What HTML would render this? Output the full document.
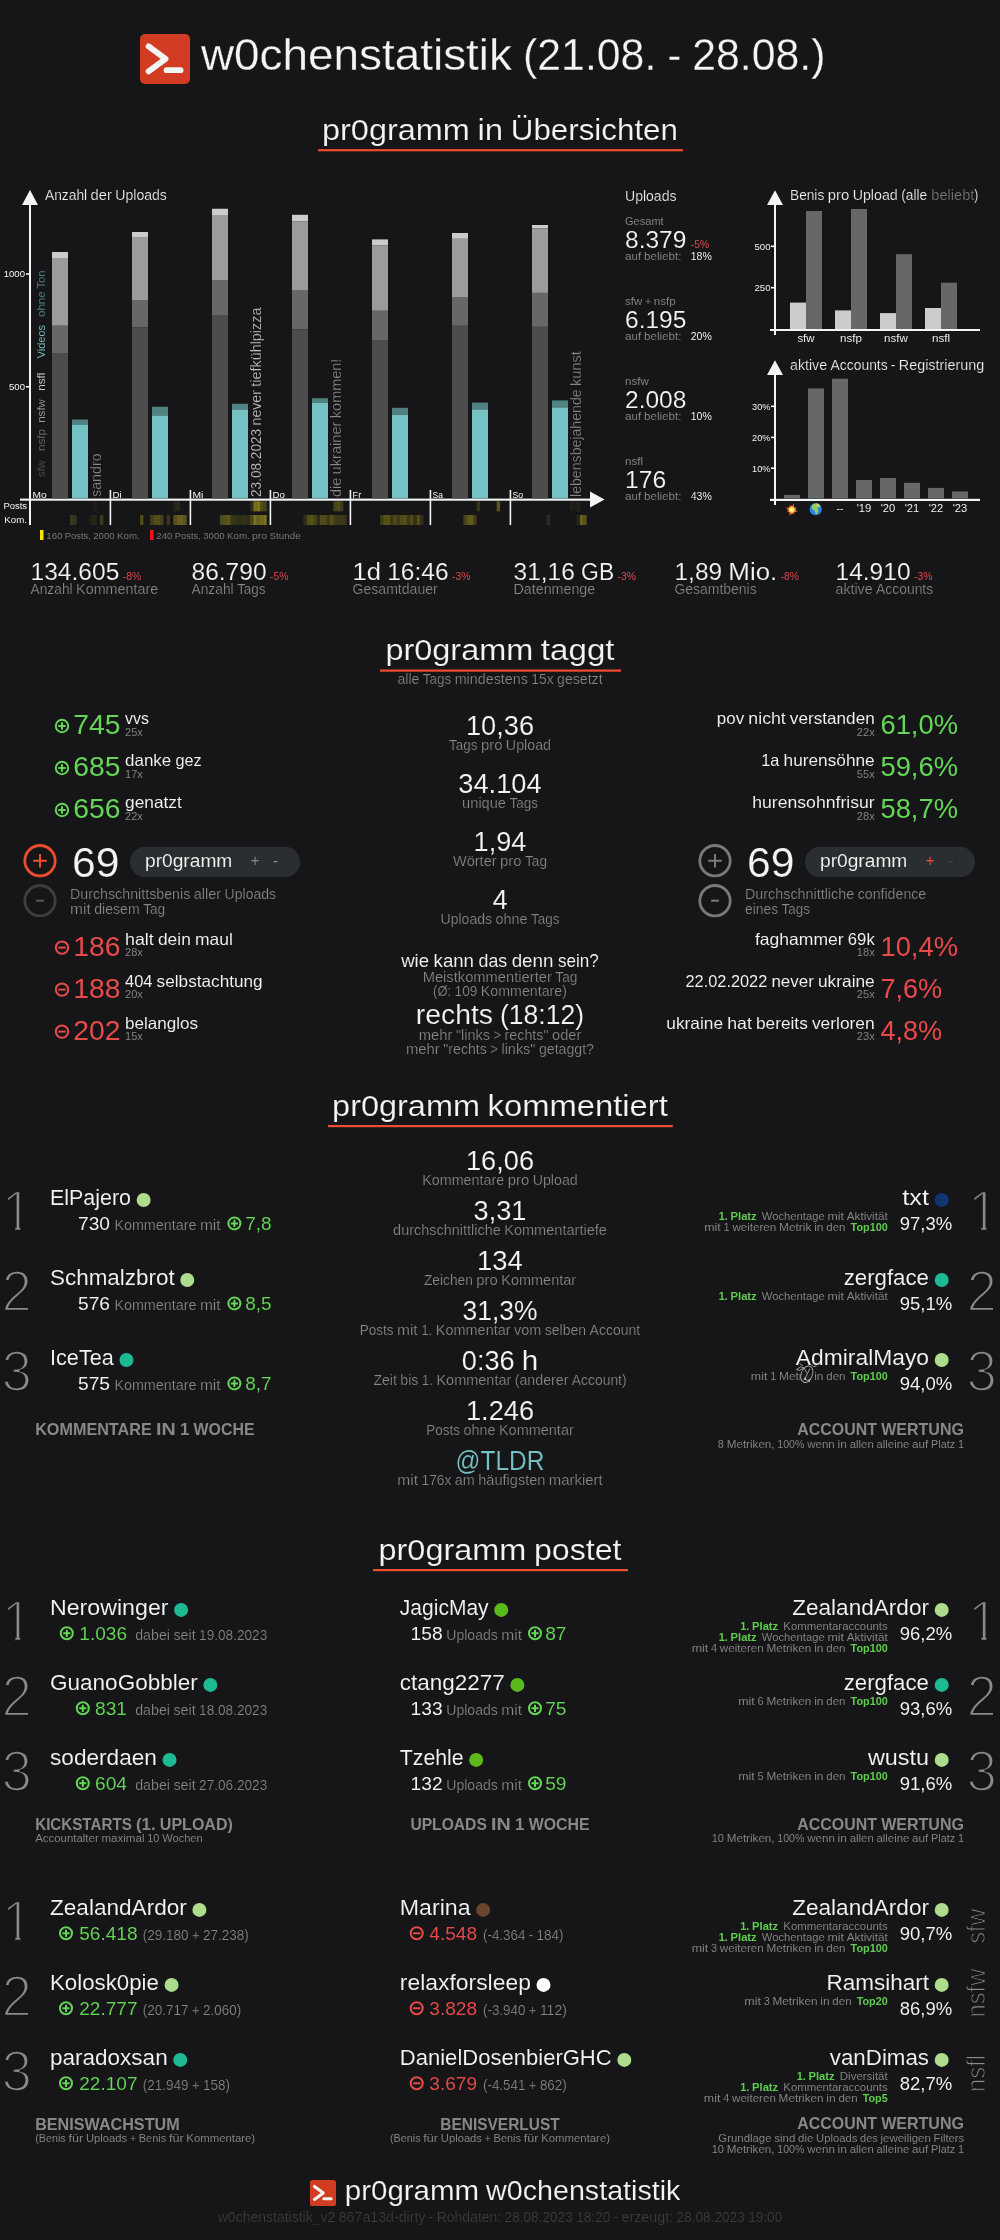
<!DOCTYPE html>
<html lang="de"><head><meta charset="utf-8"><title>pr0gramm w0chenstatistik (21.08. - 28.08.)</title>
<style>html,body{margin:0;padding:0;background:#161618}body{width:1000px;height:2240px;overflow:hidden}svg{display:block;will-change:transform}text{font-family:"Liberation Sans",sans-serif;white-space:pre}</style></head><body>
<svg width="1000" height="2240" viewBox="0 0 1000 2240">
<rect width="1000" height="2240" fill="#161618"/>
<rect x="140" y="34" width="50" height="50" rx="5.0" fill="#d23c22"/>
<path d="M148.60 46.40 L165.60 58.90 L148.60 71.40" fill="none" stroke="#f2f5f4" stroke-width="5.80" stroke-linecap="round" stroke-linejoin="round"/>
<path d="M166.60 70.20 L180.60 70.20" fill="none" stroke="#f2f5f4" stroke-width="5.80" stroke-linecap="round"/>
<rect x="318.00" y="149.10" width="365.00" height="2.20" fill="#ee4d2e"/>
<rect x="380.00" y="669.50" width="241.00" height="2.20" fill="#ee4d2e"/>
<rect x="328.00" y="1125.00" width="344.80" height="2.20" fill="#ee4d2e"/>
<rect x="373.00" y="1569.00" width="255.00" height="2.20" fill="#ee4d2e"/>
<rect x="29.00" y="204.00" width="2.00" height="321.00" fill="#f2f5f4"/>
<polygon points="30,190 22,205 38,205" fill="#f2f5f4"/>
<rect x="20.00" y="498.60" width="571.00" height="2.10" fill="#f2f5f4"/>
<polygon points="604.5,499.5 590,491.5 590,507.5" fill="#f2f5f4"/>
<rect x="26.00" y="385.95" width="4.00" height="1.60" fill="#f2f5f4"/>
<rect x="26.00" y="273.20" width="4.00" height="1.60" fill="#f2f5f4"/>
<rect x="52.00" y="252.00" width="16.00" height="6.00" fill="#cbcdcc"/>
<rect x="52.00" y="258.00" width="16.00" height="67.75" fill="#9a9c99"/>
<rect x="52.00" y="325.75" width="16.00" height="27.25" fill="#666867"/>
<rect x="52.00" y="353.00" width="16.00" height="145.50" fill="#4c4c4c"/>
<rect x="72.00" y="419.50" width="16.00" height="5.00" fill="#4f8281"/>
<rect x="72.00" y="424.50" width="16.00" height="74.00" fill="#74c2c4"/>
<rect x="132.00" y="232.00" width="16.00" height="5.00" fill="#cbcdcc"/>
<rect x="132.00" y="237.00" width="16.00" height="63.00" fill="#9a9c99"/>
<rect x="132.00" y="300.00" width="16.00" height="27.50" fill="#666867"/>
<rect x="132.00" y="327.50" width="16.00" height="171.00" fill="#4c4c4c"/>
<rect x="152.00" y="406.75" width="16.00" height="8.75" fill="#4f8281"/>
<rect x="152.00" y="415.50" width="16.00" height="83.00" fill="#74c2c4"/>
<rect x="109.60" y="490.00" width="1.60" height="35.00" fill="#f2f5f4"/>
<rect x="212.00" y="208.75" width="16.00" height="6.25" fill="#cbcdcc"/>
<rect x="212.00" y="215.00" width="16.00" height="65.00" fill="#9a9c99"/>
<rect x="212.00" y="280.00" width="16.00" height="35.00" fill="#666867"/>
<rect x="212.00" y="315.00" width="16.00" height="183.50" fill="#4c4c4c"/>
<rect x="232.00" y="403.75" width="16.00" height="5.75" fill="#4f8281"/>
<rect x="232.00" y="409.50" width="16.00" height="89.00" fill="#74c2c4"/>
<rect x="189.60" y="490.00" width="1.60" height="35.00" fill="#f2f5f4"/>
<rect x="292.00" y="214.80" width="16.00" height="6.40" fill="#cbcdcc"/>
<rect x="292.00" y="221.20" width="16.00" height="68.80" fill="#9a9c99"/>
<rect x="292.00" y="290.00" width="16.00" height="39.40" fill="#666867"/>
<rect x="292.00" y="329.40" width="16.00" height="169.10" fill="#4c4c4c"/>
<rect x="312.00" y="398.20" width="16.00" height="4.40" fill="#4f8281"/>
<rect x="312.00" y="402.60" width="16.00" height="95.90" fill="#74c2c4"/>
<rect x="269.60" y="490.00" width="1.60" height="35.00" fill="#f2f5f4"/>
<rect x="372.00" y="239.40" width="16.00" height="5.80" fill="#cbcdcc"/>
<rect x="372.00" y="245.20" width="16.00" height="65.60" fill="#9a9c99"/>
<rect x="372.00" y="310.80" width="16.00" height="29.80" fill="#666867"/>
<rect x="372.00" y="340.60" width="16.00" height="157.90" fill="#4c4c4c"/>
<rect x="392.00" y="407.80" width="16.00" height="7.00" fill="#4f8281"/>
<rect x="392.00" y="414.80" width="16.00" height="83.70" fill="#74c2c4"/>
<rect x="349.60" y="490.00" width="1.60" height="35.00" fill="#f2f5f4"/>
<rect x="452.00" y="233.00" width="16.00" height="5.80" fill="#cbcdcc"/>
<rect x="452.00" y="238.80" width="16.00" height="58.20" fill="#9a9c99"/>
<rect x="452.00" y="297.00" width="16.00" height="28.80" fill="#666867"/>
<rect x="452.00" y="325.80" width="16.00" height="172.70" fill="#4c4c4c"/>
<rect x="472.00" y="402.60" width="16.00" height="6.80" fill="#4f8281"/>
<rect x="472.00" y="409.40" width="16.00" height="89.10" fill="#74c2c4"/>
<rect x="429.60" y="490.00" width="1.60" height="35.00" fill="#f2f5f4"/>
<rect x="532.00" y="225.00" width="16.00" height="3.20" fill="#cbcdcc"/>
<rect x="532.00" y="228.20" width="16.00" height="64.70" fill="#9a9c99"/>
<rect x="532.00" y="292.90" width="16.00" height="33.90" fill="#666867"/>
<rect x="532.00" y="326.80" width="16.00" height="171.70" fill="#4c4c4c"/>
<rect x="552.00" y="400.40" width="16.00" height="7.00" fill="#4f8281"/>
<rect x="552.00" y="407.40" width="16.00" height="91.10" fill="#74c2c4"/>
<rect x="509.60" y="490.00" width="1.60" height="35.00" fill="#f2f5f4"/>
<rect x="93.33" y="501.30" width="3.38" height="10.00" fill="#d6c61e" opacity="0.05"/>
<rect x="173.33" y="501.30" width="3.38" height="10.00" fill="#d6c61e" opacity="0.08"/>
<rect x="176.67" y="501.30" width="3.38" height="10.00" fill="#d6c61e" opacity="0.10"/>
<rect x="250.00" y="501.30" width="3.38" height="10.00" fill="#d6c61e" opacity="0.12"/>
<rect x="253.33" y="501.30" width="3.38" height="10.00" fill="#d6c61e" opacity="0.50"/>
<rect x="256.67" y="501.30" width="3.38" height="10.00" fill="#d6c61e" opacity="0.55"/>
<rect x="260.00" y="501.30" width="3.38" height="10.00" fill="#d6c61e" opacity="0.30"/>
<rect x="263.33" y="501.30" width="3.38" height="10.00" fill="#d6c61e" opacity="0.25"/>
<rect x="333.33" y="501.30" width="3.38" height="10.00" fill="#d6c61e" opacity="0.25"/>
<rect x="336.67" y="501.30" width="3.38" height="10.00" fill="#d6c61e" opacity="0.30"/>
<rect x="340.00" y="501.30" width="3.38" height="10.00" fill="#d6c61e" opacity="0.22"/>
<rect x="476.67" y="501.30" width="3.38" height="10.00" fill="#d6c61e" opacity="0.18"/>
<rect x="496.67" y="501.30" width="3.38" height="10.00" fill="#d6c61e" opacity="0.35"/>
<rect x="570.00" y="501.30" width="3.38" height="10.00" fill="#d6c61e" opacity="0.06"/>
<rect x="573.33" y="501.30" width="3.38" height="10.00" fill="#d6c61e" opacity="0.04"/>
<rect x="576.67" y="501.30" width="3.38" height="10.00" fill="#d6c61e" opacity="0.07"/>
<rect x="70.00" y="515.00" width="3.38" height="10.00" fill="#d6c61e" opacity="0.20"/>
<rect x="73.33" y="515.00" width="3.38" height="10.00" fill="#d6c61e" opacity="0.16"/>
<rect x="90.00" y="515.00" width="3.38" height="10.00" fill="#d6c61e" opacity="0.07"/>
<rect x="93.33" y="515.00" width="3.38" height="10.00" fill="#d6c61e" opacity="0.09"/>
<rect x="100.00" y="515.00" width="3.38" height="10.00" fill="#d6c61e" opacity="0.20"/>
<rect x="140.00" y="515.00" width="3.38" height="10.00" fill="#d6c61e" opacity="0.30"/>
<rect x="150.00" y="515.00" width="3.38" height="10.00" fill="#d6c61e" opacity="0.22"/>
<rect x="153.33" y="515.00" width="3.38" height="10.00" fill="#d6c61e" opacity="0.30"/>
<rect x="156.67" y="515.00" width="3.38" height="10.00" fill="#d6c61e" opacity="0.32"/>
<rect x="160.00" y="515.00" width="3.38" height="10.00" fill="#d6c61e" opacity="0.25"/>
<rect x="166.67" y="515.00" width="3.38" height="10.00" fill="#d6c61e" opacity="0.18"/>
<rect x="173.33" y="515.00" width="3.38" height="10.00" fill="#d6c61e" opacity="0.35"/>
<rect x="176.67" y="515.00" width="3.38" height="10.00" fill="#d6c61e" opacity="0.40"/>
<rect x="180.00" y="515.00" width="3.38" height="10.00" fill="#d6c61e" opacity="0.42"/>
<rect x="183.33" y="515.00" width="3.38" height="10.00" fill="#d6c61e" opacity="0.36"/>
<rect x="220.00" y="515.00" width="3.38" height="10.00" fill="#d6c61e" opacity="0.30"/>
<rect x="223.33" y="515.00" width="3.38" height="10.00" fill="#d6c61e" opacity="0.32"/>
<rect x="226.67" y="515.00" width="3.38" height="10.00" fill="#d6c61e" opacity="0.36"/>
<rect x="230.00" y="515.00" width="3.38" height="10.00" fill="#d6c61e" opacity="0.20"/>
<rect x="233.33" y="515.00" width="3.38" height="10.00" fill="#d6c61e" opacity="0.16"/>
<rect x="236.67" y="515.00" width="3.38" height="10.00" fill="#d6c61e" opacity="0.14"/>
<rect x="240.00" y="515.00" width="3.38" height="10.00" fill="#d6c61e" opacity="0.14"/>
<rect x="243.33" y="515.00" width="3.38" height="10.00" fill="#d6c61e" opacity="0.16"/>
<rect x="246.67" y="515.00" width="3.38" height="10.00" fill="#d6c61e" opacity="0.14"/>
<rect x="250.00" y="515.00" width="3.38" height="10.00" fill="#d6c61e" opacity="0.28"/>
<rect x="253.33" y="515.00" width="3.38" height="10.00" fill="#d6c61e" opacity="0.50"/>
<rect x="256.67" y="515.00" width="3.38" height="10.00" fill="#d6c61e" opacity="0.42"/>
<rect x="260.00" y="515.00" width="3.38" height="10.00" fill="#d6c61e" opacity="0.45"/>
<rect x="263.33" y="515.00" width="3.38" height="10.00" fill="#d6c61e" opacity="0.52"/>
<rect x="303.33" y="515.00" width="3.38" height="10.00" fill="#d6c61e" opacity="0.12"/>
<rect x="306.67" y="515.00" width="3.38" height="10.00" fill="#d6c61e" opacity="0.30"/>
<rect x="310.00" y="515.00" width="3.38" height="10.00" fill="#d6c61e" opacity="0.34"/>
<rect x="313.33" y="515.00" width="3.38" height="10.00" fill="#d6c61e" opacity="0.28"/>
<rect x="316.67" y="515.00" width="3.38" height="10.00" fill="#d6c61e" opacity="0.14"/>
<rect x="320.00" y="515.00" width="3.38" height="10.00" fill="#d6c61e" opacity="0.30"/>
<rect x="323.33" y="515.00" width="3.38" height="10.00" fill="#d6c61e" opacity="0.30"/>
<rect x="326.67" y="515.00" width="3.38" height="10.00" fill="#d6c61e" opacity="0.20"/>
<rect x="330.00" y="515.00" width="3.38" height="10.00" fill="#d6c61e" opacity="0.32"/>
<rect x="333.33" y="515.00" width="3.38" height="10.00" fill="#d6c61e" opacity="0.22"/>
<rect x="336.67" y="515.00" width="3.38" height="10.00" fill="#d6c61e" opacity="0.20"/>
<rect x="340.00" y="515.00" width="3.38" height="10.00" fill="#d6c61e" opacity="0.20"/>
<rect x="343.33" y="515.00" width="3.38" height="10.00" fill="#d6c61e" opacity="0.18"/>
<rect x="380.00" y="515.00" width="3.38" height="10.00" fill="#d6c61e" opacity="0.20"/>
<rect x="383.33" y="515.00" width="3.38" height="10.00" fill="#d6c61e" opacity="0.32"/>
<rect x="386.67" y="515.00" width="3.38" height="10.00" fill="#d6c61e" opacity="0.34"/>
<rect x="390.00" y="515.00" width="3.38" height="10.00" fill="#d6c61e" opacity="0.20"/>
<rect x="393.33" y="515.00" width="3.38" height="10.00" fill="#d6c61e" opacity="0.30"/>
<rect x="396.67" y="515.00" width="3.38" height="10.00" fill="#d6c61e" opacity="0.20"/>
<rect x="400.00" y="515.00" width="3.38" height="10.00" fill="#d6c61e" opacity="0.30"/>
<rect x="403.33" y="515.00" width="3.38" height="10.00" fill="#d6c61e" opacity="0.32"/>
<rect x="406.67" y="515.00" width="3.38" height="10.00" fill="#d6c61e" opacity="0.20"/>
<rect x="410.00" y="515.00" width="3.38" height="10.00" fill="#d6c61e" opacity="0.30"/>
<rect x="413.33" y="515.00" width="3.38" height="10.00" fill="#d6c61e" opacity="0.15"/>
<rect x="416.67" y="515.00" width="3.38" height="10.00" fill="#d6c61e" opacity="0.30"/>
<rect x="420.00" y="515.00" width="3.38" height="10.00" fill="#d6c61e" opacity="0.12"/>
<rect x="463.33" y="515.00" width="3.38" height="10.00" fill="#d6c61e" opacity="0.25"/>
<rect x="466.67" y="515.00" width="3.38" height="10.00" fill="#d6c61e" opacity="0.38"/>
<rect x="470.00" y="515.00" width="3.38" height="10.00" fill="#d6c61e" opacity="0.40"/>
<rect x="473.33" y="515.00" width="3.38" height="10.00" fill="#d6c61e" opacity="0.22"/>
<rect x="546.67" y="515.00" width="3.38" height="10.00" fill="#d6c61e" opacity="0.12"/>
<rect x="576.67" y="515.00" width="3.38" height="10.00" fill="#d6c61e" opacity="0.10"/>
<rect x="580.00" y="515.00" width="3.38" height="10.00" fill="#d6c61e" opacity="0.42"/>
<rect x="583.33" y="515.00" width="3.38" height="10.00" fill="#d6c61e" opacity="0.35"/>
<rect x="40.00" y="530.00" width="3.50" height="10.00" fill="#f5e400"/>
<rect x="150.00" y="530.00" width="3.50" height="10.00" fill="#f01414"/>
<rect x="774.00" y="204.00" width="2.00" height="131.00" fill="#f2f5f4"/>
<polygon points="775,190.3 767,205 783,205" fill="#f2f5f4"/>
<rect x="770.00" y="329.00" width="210.00" height="2.00" fill="#f2f5f4"/>
<rect x="771.00" y="245.50" width="4.00" height="1.60" fill="#f2f5f4"/>
<rect x="771.00" y="286.90" width="4.00" height="1.60" fill="#f2f5f4"/>
<rect x="790.00" y="302.60" width="16.00" height="26.40" fill="#cbcdcc"/>
<rect x="806.00" y="211.00" width="16.00" height="118.00" fill="#666867"/>
<rect x="835.00" y="310.40" width="16.00" height="18.60" fill="#cbcdcc"/>
<rect x="851.00" y="209.00" width="16.00" height="120.00" fill="#666867"/>
<rect x="880.00" y="313.10" width="16.00" height="15.90" fill="#cbcdcc"/>
<rect x="896.00" y="254.20" width="16.00" height="74.80" fill="#666867"/>
<rect x="925.00" y="308.00" width="16.00" height="21.00" fill="#cbcdcc"/>
<rect x="941.00" y="282.70" width="16.00" height="46.30" fill="#666867"/>
<rect x="774.00" y="374.00" width="2.00" height="131.00" fill="#f2f5f4"/>
<polygon points="775,360.3 767,375 783,375" fill="#f2f5f4"/>
<rect x="770.00" y="498.80" width="210.00" height="2.20" fill="#f2f5f4"/>
<rect x="771.00" y="405.50" width="4.00" height="1.60" fill="#f2f5f4"/>
<rect x="771.00" y="436.60" width="4.00" height="1.60" fill="#f2f5f4"/>
<rect x="771.00" y="467.40" width="4.00" height="1.60" fill="#f2f5f4"/>
<rect x="784.00" y="494.90" width="16.00" height="3.60" fill="#666867"/>
<rect x="808.00" y="388.40" width="16.00" height="110.10" fill="#666867"/>
<rect x="832.00" y="378.70" width="16.00" height="119.80" fill="#666867"/>
<rect x="856.00" y="480.00" width="16.00" height="18.50" fill="#666867"/>
<rect x="880.00" y="478.00" width="16.00" height="20.50" fill="#666867"/>
<rect x="904.00" y="482.80" width="16.00" height="15.70" fill="#666867"/>
<rect x="928.00" y="487.90" width="16.00" height="10.60" fill="#666867"/>
<rect x="952.00" y="491.40" width="16.00" height="7.10" fill="#666867"/>
<polygon points="794.1,503.6 794.0,507.4 796.7,507.5 795.0,509.7 798.0,512.1 794.2,512.0 794.1,514.7 791.9,513.0 789.5,516.0 789.6,512.2 786.9,512.1 788.6,509.9 785.6,507.5 789.4,507.6 789.5,504.9 791.7,506.6" fill="#e2541c"/>
<polygon points="791.8,504.9 792.8,507.4 794.6,507.0 794.2,508.8 796.7,509.8 794.2,510.8 794.6,512.6 792.8,512.2 791.8,514.7 790.8,512.2 789.0,512.6 789.4,510.8 786.9,509.8 789.4,508.8 789.0,507.0 790.8,507.4" fill="#f7a021"/>
<circle cx="791.8" cy="509.8" r="2.7" fill="#ffdf5a"/>
<circle cx="791.6" cy="510" r="1.3" fill="#fff6c8"/>
<circle cx="815.7" cy="509.2" r="6.1" fill="#2583e6"/>
<path d="M812.2 505 q2.6 -2.2 5.6 -1.4 q2.2 1.2 3 3 q-1.6 1.4 -3.2 0.6 q-0.6 2 0.8 3.6 q-0.4 2.4 -2 3.6 q-1.8 -1 -1.6 -3.6 q-2.4 -0.8 -3 -3 q-0.6 -1.6 0.4 -2.8 z" fill="#8fce5c"/>
<path d="M816.5 504.3 q1.8 -0.2 2.8 1 q-1.2 1 -2.6 0.4 z" fill="#e6d98a"/>
<circle cx="62.00" cy="726.00" r="6.2" fill="none" stroke="#64d556" stroke-width="2"/>
<path d="M58.30 726.00 H65.70 M62.00 722.30 V729.70" stroke="#64d556" stroke-width="2" fill="none"/>
<circle cx="62.00" cy="768.00" r="6.2" fill="none" stroke="#64d556" stroke-width="2"/>
<path d="M58.30 768.00 H65.70 M62.00 764.30 V771.70" stroke="#64d556" stroke-width="2" fill="none"/>
<circle cx="62.00" cy="810.00" r="6.2" fill="none" stroke="#64d556" stroke-width="2"/>
<path d="M58.30 810.00 H65.70 M62.00 806.30 V813.70" stroke="#64d556" stroke-width="2" fill="none"/>
<circle cx="62.00" cy="947.60" r="6.2" fill="none" stroke="#e84a4a" stroke-width="2"/>
<path d="M58.30 947.60 H65.70" stroke="#e84a4a" stroke-width="2" fill="none"/>
<circle cx="62.00" cy="989.60" r="6.2" fill="none" stroke="#e84a4a" stroke-width="2"/>
<path d="M58.30 989.60 H65.70" stroke="#e84a4a" stroke-width="2" fill="none"/>
<circle cx="62.00" cy="1031.60" r="6.2" fill="none" stroke="#e84a4a" stroke-width="2"/>
<path d="M58.30 1031.60 H65.70" stroke="#e84a4a" stroke-width="2" fill="none"/>
<circle cx="40" cy="860.7" r="15.2" fill="none" stroke="#ee4d2e" stroke-width="2.8"/>
<path d="M33.2 860.7 H46.8 M40 853.9000000000001 V867.5" stroke="#ee4d2e" stroke-width="2" fill="none"/>
<circle cx="40" cy="900.7" r="15.2" fill="none" stroke="#3e3e40" stroke-width="2.8"/>
<path d="M36.1 900.7 H43.9" stroke="#5a5a5c" stroke-width="2" fill="none"/>
<rect x="130.00" y="846.70" width="170.00" height="30.40" fill="#2a2e31" rx="15.2"/>
<circle cx="715" cy="860.7" r="15.2" fill="none" stroke="#7a7a7a" stroke-width="2.8"/>
<path d="M708.2 860.7 H721.8 M715 853.9000000000001 V867.5" stroke="#7a7a7a" stroke-width="2" fill="none"/>
<circle cx="715" cy="900.7" r="15.2" fill="none" stroke="#7a7a7a" stroke-width="2.8"/>
<path d="M711.1 900.7 H718.9" stroke="#7a7a7a" stroke-width="2" fill="none"/>
<rect x="805.00" y="846.70" width="170.00" height="30.40" fill="#2a2e31" rx="15.2"/>
<circle cx="234.40" cy="1223.40" r="6" fill="none" stroke="#64d556" stroke-width="2"/>
<path d="M230.80 1223.40 H238.00 M234.40 1219.80 V1227.00" stroke="#64d556" stroke-width="2" fill="none"/>
<circle cx="234.40" cy="1303.40" r="6" fill="none" stroke="#64d556" stroke-width="2"/>
<path d="M230.80 1303.40 H238.00 M234.40 1299.80 V1307.00" stroke="#64d556" stroke-width="2" fill="none"/>
<circle cx="234.40" cy="1383.40" r="6" fill="none" stroke="#64d556" stroke-width="2"/>
<path d="M230.80 1383.40 H238.00 M234.40 1379.80 V1387.00" stroke="#64d556" stroke-width="2" fill="none"/>
<circle cx="941.70" cy="1200.00" r="7" fill="#10366f"/>
<circle cx="941.70" cy="1280.00" r="7" fill="#1cb992"/>
<circle cx="941.70" cy="1360.00" r="7" fill="#addc8d"/>
<circle cx="66.80" cy="1633.30" r="6" fill="none" stroke="#64d556" stroke-width="2"/>
<path d="M63.20 1633.30 H70.40 M66.80 1629.70 V1636.90" stroke="#64d556" stroke-width="2" fill="none"/>
<circle cx="82.80" cy="1708.30" r="6" fill="none" stroke="#64d556" stroke-width="2"/>
<path d="M79.20 1708.30 H86.40 M82.80 1704.70 V1711.90" stroke="#64d556" stroke-width="2" fill="none"/>
<circle cx="82.80" cy="1783.30" r="6" fill="none" stroke="#64d556" stroke-width="2"/>
<path d="M79.20 1783.30 H86.40 M82.80 1779.70 V1786.90" stroke="#64d556" stroke-width="2" fill="none"/>
<circle cx="535.00" cy="1633.30" r="6" fill="none" stroke="#64d556" stroke-width="2"/>
<path d="M531.40 1633.30 H538.60 M535.00 1629.70 V1636.90" stroke="#64d556" stroke-width="2" fill="none"/>
<circle cx="535.00" cy="1708.30" r="6" fill="none" stroke="#64d556" stroke-width="2"/>
<path d="M531.40 1708.30 H538.60 M535.00 1704.70 V1711.90" stroke="#64d556" stroke-width="2" fill="none"/>
<circle cx="535.00" cy="1783.30" r="6" fill="none" stroke="#64d556" stroke-width="2"/>
<path d="M531.40 1783.30 H538.60 M535.00 1779.70 V1786.90" stroke="#64d556" stroke-width="2" fill="none"/>
<circle cx="941.70" cy="1609.90" r="7" fill="#addc8d"/>
<circle cx="941.70" cy="1684.90" r="7" fill="#1cb992"/>
<circle cx="941.70" cy="1759.90" r="7" fill="#addc8d"/>
<circle cx="66.00" cy="1933.30" r="6" fill="none" stroke="#64d556" stroke-width="2"/>
<path d="M62.40 1933.30 H69.60 M66.00 1929.70 V1936.90" stroke="#64d556" stroke-width="2" fill="none"/>
<circle cx="66.00" cy="2008.30" r="6" fill="none" stroke="#64d556" stroke-width="2"/>
<path d="M62.40 2008.30 H69.60 M66.00 2004.70 V2011.90" stroke="#64d556" stroke-width="2" fill="none"/>
<circle cx="66.00" cy="2083.30" r="6" fill="none" stroke="#64d556" stroke-width="2"/>
<path d="M62.40 2083.30 H69.60 M66.00 2079.70 V2086.90" stroke="#64d556" stroke-width="2" fill="none"/>
<circle cx="416.70" cy="1933.30" r="6" fill="none" stroke="#e84a4a" stroke-width="2"/>
<path d="M413.10 1933.30 H420.30" stroke="#e84a4a" stroke-width="2" fill="none"/>
<circle cx="416.70" cy="2008.30" r="6" fill="none" stroke="#e84a4a" stroke-width="2"/>
<path d="M413.10 2008.30 H420.30" stroke="#e84a4a" stroke-width="2" fill="none"/>
<circle cx="416.70" cy="2083.30" r="6" fill="none" stroke="#e84a4a" stroke-width="2"/>
<path d="M413.10 2083.30 H420.30" stroke="#e84a4a" stroke-width="2" fill="none"/>
<circle cx="941.70" cy="1909.90" r="7" fill="#addc8d"/>
<circle cx="941.70" cy="1984.90" r="7" fill="#addc8d"/>
<circle cx="941.70" cy="2059.90" r="7" fill="#addc8d"/>
<rect x="310" y="2180" width="26" height="26" rx="2.6" fill="#d23c22"/>
<path d="M314.47 2186.45 L323.31 2192.95 L314.47 2199.45" fill="none" stroke="#f2f5f4" stroke-width="3.02" stroke-linecap="round" stroke-linejoin="round"/>
<path d="M323.83 2198.82 L331.11 2198.82" fill="none" stroke="#f2f5f4" stroke-width="3.02" stroke-linecap="round"/>
<circle cx="143.66" cy="1200" r="7" fill="#addc8d"/>
<circle cx="187.27" cy="1280" r="7" fill="#addc8d"/>
<circle cx="126.46" cy="1360" r="7" fill="#1cb992"/>
<circle cx="181.1" cy="1609.9" r="7" fill="#1cb992"/>
<circle cx="210.37" cy="1684.9" r="7" fill="#1cb992"/>
<circle cx="169.55" cy="1759.9" r="7" fill="#1cb992"/>
<circle cx="501.24" cy="1609.9" r="7" fill="#5bb91c"/>
<circle cx="517.4" cy="1684.9" r="7" fill="#5bb91c"/>
<circle cx="476.18" cy="1759.9" r="7" fill="#5bb91c"/>
<circle cx="199.41" cy="1909.9" r="7" fill="#addc8d"/>
<circle cx="171.57" cy="1984.9" r="7" fill="#addc8d"/>
<circle cx="180.27" cy="2059.9" r="7" fill="#1cb992"/>
<circle cx="483.18" cy="1909.9" r="7" fill="#6c432b"/>
<circle cx="543.51" cy="1984.9" r="7" fill="#ffffff"/>
<circle cx="624.32" cy="2059.9" r="7" fill="#addc8d"/>
<text y="70.3" font-size="43.95" fill="#f2f5f4" stroke="#161618" stroke-width="0.29"><tspan x="201" textLength="310.97" lengthAdjust="spacingAndGlyphs">w0chenstatistik</tspan> <tspan x="523.06" textLength="133.27" lengthAdjust="spacingAndGlyphs">(21.08.</tspan> <tspan x="667.41" textLength="13.75" lengthAdjust="spacingAndGlyphs">-</tspan> <tspan x="692.23" textLength="133.28" lengthAdjust="spacingAndGlyphs">28.08.)</tspan></text>
<text y="139.6" font-size="30.21" fill="#f2f5f4" stroke="#161618" stroke-width="0.16"><tspan x="322.03" textLength="147.8" lengthAdjust="spacingAndGlyphs">pr0gramm</tspan> <tspan x="477.45" textLength="25.7" lengthAdjust="spacingAndGlyphs">in</tspan> <tspan x="510.77" textLength="167.22" lengthAdjust="spacingAndGlyphs">Übersichten</tspan></text>
<text y="660" font-size="30.21" fill="#f2f5f4" stroke="#161618" stroke-width="0.16"><tspan x="385.44" textLength="147.8" lengthAdjust="spacingAndGlyphs">pr0gramm</tspan> <tspan x="540.86" textLength="73.72" lengthAdjust="spacingAndGlyphs">taggt</tspan></text>
<text y="1115.5" font-size="30.21" fill="#f2f5f4" stroke="#161618" stroke-width="0.16"><tspan x="332.13" textLength="147.8" lengthAdjust="spacingAndGlyphs">pr0gramm</tspan> <tspan x="487.55" textLength="180.33" lengthAdjust="spacingAndGlyphs">kommentiert</tspan></text>
<text y="1559.5" font-size="30.21" fill="#f2f5f4" stroke="#161618" stroke-width="0.16"><tspan x="378.52" textLength="147.8" lengthAdjust="spacingAndGlyphs">pr0gramm</tspan> <tspan x="533.94" textLength="87.56" lengthAdjust="spacingAndGlyphs">postet</tspan></text>
<text y="684.3" font-size="13.73" fill="#888888" stroke="#161618" stroke-width="0.2"><tspan x="397.44" textLength="21.88" lengthAdjust="spacingAndGlyphs">alle</tspan> <tspan x="422.78" textLength="28.42" lengthAdjust="spacingAndGlyphs">Tags</tspan> <tspan x="454.66" textLength="73.19" lengthAdjust="spacingAndGlyphs">mindestens</tspan> <tspan x="531.3" textLength="22.31" lengthAdjust="spacingAndGlyphs">15x</tspan> <tspan x="557.06" textLength="45.52" lengthAdjust="spacingAndGlyphs">gesetzt</tspan></text>
<text y="200" font-size="13.73" fill="#f2f5f4" stroke="#161618" stroke-width="0.2"><tspan x="45" textLength="42.17" lengthAdjust="spacingAndGlyphs">Anzahl</tspan> <tspan x="90.64" textLength="21.23" lengthAdjust="spacingAndGlyphs">der</tspan> <tspan x="115.33" textLength="51.52" lengthAdjust="spacingAndGlyphs">Uploads</tspan></text>
<text y="390.05" font-size="9.61" fill="#f2f5f4"><tspan x="8.98" textLength="16.02" lengthAdjust="spacingAndGlyphs">500</tspan></text>
<text y="277.3" font-size="9.61" fill="#f2f5f4"><tspan x="3.66" textLength="21.34" lengthAdjust="spacingAndGlyphs">1000</tspan></text>
<text y="497.5" font-size="9.61" fill="#f2f5f4"><tspan x="32.5" textLength="14.11" lengthAdjust="spacingAndGlyphs">Mo</tspan></text>
<text y="497.5" font-size="9.61" fill="#f2f5f4"><tspan x="112.5" textLength="9.22" lengthAdjust="spacingAndGlyphs">Di</tspan></text>
<text y="497.5" font-size="9.61" fill="#f2f5f4"><tspan x="192.5" textLength="10.88" lengthAdjust="spacingAndGlyphs">Mi</tspan></text>
<text y="497.5" font-size="9.61" fill="#f2f5f4"><tspan x="272.5" textLength="12.45" lengthAdjust="spacingAndGlyphs">Do</tspan></text>
<text y="497.5" font-size="9.61" fill="#f2f5f4"><tspan x="352.5" textLength="8.7" lengthAdjust="spacingAndGlyphs">Fr</tspan></text>
<text y="497.5" font-size="9.61" fill="#f2f5f4"><tspan x="432.5" textLength="10.36" lengthAdjust="spacingAndGlyphs">Sa</tspan></text>
<text y="497.5" font-size="9.61" fill="#f2f5f4"><tspan x="512.5" textLength="10.77" lengthAdjust="spacingAndGlyphs">So</tspan></text>
<text transform="translate(45.3 477.3) rotate(-90)" y="0" font-size="10.99" fill="#4c4c4c" stroke="#161618" stroke-width="0.04"><tspan x="0" textLength="17.16" lengthAdjust="spacingAndGlyphs">sfw</tspan></text>
<text transform="translate(45.3 451) rotate(-90)" y="0" font-size="10.99" fill="#666867" stroke="#161618" stroke-width="0.04"><tspan x="0" textLength="21.92" lengthAdjust="spacingAndGlyphs">nsfp</tspan></text>
<text transform="translate(45.3 422.8) rotate(-90)" y="0" font-size="10.99" fill="#9a9c99" stroke="#161618" stroke-width="0.04"><tspan x="0" textLength="23.73" lengthAdjust="spacingAndGlyphs">nsfw</tspan></text>
<text transform="translate(45.3 390.8) rotate(-90)" y="0" font-size="10.99" fill="#cbcdcc" stroke="#161618" stroke-width="0.04"><tspan x="0" textLength="18.11" lengthAdjust="spacingAndGlyphs">nsfl</tspan></text>
<text transform="translate(45.3 358.3) rotate(-90)" y="0" font-size="10.99" fill="#74c2c4" stroke="#161618" stroke-width="0.04"><tspan x="0" textLength="33.27" lengthAdjust="spacingAndGlyphs">Videos</tspan></text>
<text transform="translate(45.3 317) rotate(-90)" y="0" font-size="10.99" fill="#4f8281" stroke="#161618" stroke-width="0.04"><tspan x="0" textLength="25.64" lengthAdjust="spacingAndGlyphs">ohne</tspan> <tspan x="28.41" textLength="18.23" lengthAdjust="spacingAndGlyphs">Ton</tspan></text>
<text transform="translate(101.3 497) rotate(-90)" y="0" font-size="13.73" fill="#888888" stroke="#161618" stroke-width="0.2"><tspan x="0" textLength="43.61" lengthAdjust="spacingAndGlyphs">sandro</tspan></text>
<text transform="translate(261.3 497) rotate(-90)" y="0" font-size="13.73" fill="#c4c6c5" stroke="#161618" stroke-width="0.2"><tspan x="0" textLength="68.14" lengthAdjust="spacingAndGlyphs">23.08.2023</tspan> <tspan x="71.61" textLength="35.3" lengthAdjust="spacingAndGlyphs">never</tspan> <tspan x="110.34" textLength="79.05" lengthAdjust="spacingAndGlyphs">tiefkühlpizza</tspan></text>
<text transform="translate(341.3 497) rotate(-90)" y="0" font-size="13.73" fill="#888888" stroke="#161618" stroke-width="0.2"><tspan x="0" textLength="19.16" lengthAdjust="spacingAndGlyphs">die</tspan> <tspan x="22.62" textLength="52.78" lengthAdjust="spacingAndGlyphs">ukrainer</tspan> <tspan x="78.86" textLength="59.45" lengthAdjust="spacingAndGlyphs">kommen!</tspan></text>
<text transform="translate(581.3 497) rotate(-90)" y="0" font-size="13.73" fill="#888888" stroke="#161618" stroke-width="0.2"><tspan x="0" textLength="107.62" lengthAdjust="spacingAndGlyphs">lebensbejahende</tspan> <tspan x="111.09" textLength="34.81" lengthAdjust="spacingAndGlyphs">kunst</tspan></text>
<text y="509" font-size="9.61" fill="#f2f5f4"><tspan x="3.41" textLength="23.59" lengthAdjust="spacingAndGlyphs">Posts</tspan></text>
<text y="523" font-size="9.61" fill="#f2f5f4"><tspan x="4.36" textLength="22.64" lengthAdjust="spacingAndGlyphs">Kom.</tspan></text>
<text y="538.5" font-size="9.61" fill="#777777"><tspan x="46.3" textLength="16.02" lengthAdjust="spacingAndGlyphs">160</tspan> <tspan x="64.74" textLength="26.11" lengthAdjust="spacingAndGlyphs">Posts,</tspan> <tspan x="93.25" textLength="21.36" lengthAdjust="spacingAndGlyphs">2000</tspan> <tspan x="117.02" textLength="22.66" lengthAdjust="spacingAndGlyphs">Kom.</tspan></text>
<text y="538.5" font-size="9.61" fill="#777777"><tspan x="156.3" textLength="16.02" lengthAdjust="spacingAndGlyphs">240</tspan> <tspan x="174.74" textLength="26.11" lengthAdjust="spacingAndGlyphs">Posts,</tspan> <tspan x="203.25" textLength="21.36" lengthAdjust="spacingAndGlyphs">3000</tspan> <tspan x="227.02" textLength="22.66" lengthAdjust="spacingAndGlyphs">Kom.</tspan> <tspan x="252.08" textLength="15.06" lengthAdjust="spacingAndGlyphs">pro</tspan> <tspan x="269.57" textLength="31.03" lengthAdjust="spacingAndGlyphs">Stunde</tspan></text>
<text y="200.6" font-size="13.73" fill="#f2f5f4" stroke="#161618" stroke-width="0.2"><tspan x="625" textLength="51.5" lengthAdjust="spacingAndGlyphs">Uploads</tspan></text>
<text y="224.6" font-size="10.99" fill="#888888" stroke="#161618" stroke-width="0.04"><tspan x="625" textLength="38.67" lengthAdjust="spacingAndGlyphs">Gesamt</tspan></text>
<text y="248" font-size="24.72" fill="#f2f5f4" stroke="#161618" stroke-width="0.15"><tspan x="625" textLength="61.36" lengthAdjust="spacingAndGlyphs">8.379</tspan></text>
<text y="247.6" font-size="10.99" fill="#e84a4a" stroke="#161618" stroke-width="0.04"><tspan x="690.7" textLength="18.39" lengthAdjust="spacingAndGlyphs">-5%</tspan></text>
<text y="259.8" font-size="10.99" fill="#888888" stroke="#161618" stroke-width="0.04"><tspan x="625" textLength="16.23" lengthAdjust="spacingAndGlyphs">auf</tspan> <tspan x="644.02" textLength="37.34" lengthAdjust="spacingAndGlyphs">beliebt:</tspan></text>
<text y="259.8" font-size="10.99" fill="#f2f5f4" stroke="#161618" stroke-width="0.04"><tspan x="690.7" textLength="21.05" lengthAdjust="spacingAndGlyphs">18%</tspan></text>
<text y="304.6" font-size="10.99" fill="#888888" stroke="#161618" stroke-width="0.04"><tspan x="625" textLength="17.16" lengthAdjust="spacingAndGlyphs">sfw</tspan> <tspan x="644.92" textLength="6.11" lengthAdjust="spacingAndGlyphs">+</tspan> <tspan x="653.8" textLength="21.92" lengthAdjust="spacingAndGlyphs">nsfp</tspan></text>
<text y="328" font-size="24.72" fill="#f2f5f4" stroke="#161618" stroke-width="0.15"><tspan x="625" textLength="61.36" lengthAdjust="spacingAndGlyphs">6.195</tspan></text>
<text y="339.8" font-size="10.99" fill="#888888" stroke="#161618" stroke-width="0.04"><tspan x="625" textLength="16.23" lengthAdjust="spacingAndGlyphs">auf</tspan> <tspan x="644.02" textLength="37.34" lengthAdjust="spacingAndGlyphs">beliebt:</tspan></text>
<text y="339.8" font-size="10.99" fill="#f2f5f4" stroke="#161618" stroke-width="0.04"><tspan x="690.7" textLength="21.05" lengthAdjust="spacingAndGlyphs">20%</tspan></text>
<text y="384.6" font-size="10.99" fill="#888888" stroke="#161618" stroke-width="0.04"><tspan x="625" textLength="23.73" lengthAdjust="spacingAndGlyphs">nsfw</tspan></text>
<text y="408" font-size="24.72" fill="#f2f5f4" stroke="#161618" stroke-width="0.15"><tspan x="625" textLength="61.36" lengthAdjust="spacingAndGlyphs">2.008</tspan></text>
<text y="419.8" font-size="10.99" fill="#888888" stroke="#161618" stroke-width="0.04"><tspan x="625" textLength="16.23" lengthAdjust="spacingAndGlyphs">auf</tspan> <tspan x="644.02" textLength="37.34" lengthAdjust="spacingAndGlyphs">beliebt:</tspan></text>
<text y="419.8" font-size="10.99" fill="#f2f5f4" stroke="#161618" stroke-width="0.04"><tspan x="690.7" textLength="21.05" lengthAdjust="spacingAndGlyphs">10%</tspan></text>
<text y="464.6" font-size="10.99" fill="#888888" stroke="#161618" stroke-width="0.04"><tspan x="625" textLength="18.11" lengthAdjust="spacingAndGlyphs">nsfl</tspan></text>
<text y="488" font-size="24.72" fill="#f2f5f4" stroke="#161618" stroke-width="0.15"><tspan x="625" textLength="41.19" lengthAdjust="spacingAndGlyphs">176</tspan></text>
<text y="499.8" font-size="10.99" fill="#888888" stroke="#161618" stroke-width="0.04"><tspan x="625" textLength="16.23" lengthAdjust="spacingAndGlyphs">auf</tspan> <tspan x="644.02" textLength="37.34" lengthAdjust="spacingAndGlyphs">beliebt:</tspan></text>
<text y="499.8" font-size="10.99" fill="#f2f5f4" stroke="#161618" stroke-width="0.04"><tspan x="690.7" textLength="21.05" lengthAdjust="spacingAndGlyphs">43%</tspan></text>
<text y="200.3" font-size="13.73" fill="#f2f5f4" stroke="#161618" stroke-width="0.2"><tspan x="790" textLength="34.25" lengthAdjust="spacingAndGlyphs">Benis</tspan> <tspan x="827.72" textLength="21.52" lengthAdjust="spacingAndGlyphs">pro</tspan> <tspan x="852.67" textLength="45.14" lengthAdjust="spacingAndGlyphs">Upload</tspan> <tspan x="901.25" textLength="25.89" lengthAdjust="spacingAndGlyphs">(alle</tspan></text>
<text y="200.3" font-size="13.73" fill="#777777" stroke="#161618" stroke-width="0.2"><tspan x="931.3" textLength="43.12" lengthAdjust="spacingAndGlyphs">beliebt</tspan></text>
<text y="200.3" font-size="13.73" fill="#f2f5f4" stroke="#161618" stroke-width="0.2"><tspan x="974.2" textLength="4" lengthAdjust="spacingAndGlyphs">)</tspan></text>
<text y="249.6" font-size="9.61" fill="#f2f5f4"><tspan x="754.48" textLength="16.02" lengthAdjust="spacingAndGlyphs">500</tspan></text>
<text y="291" font-size="9.61" fill="#f2f5f4"><tspan x="754.48" textLength="16.02" lengthAdjust="spacingAndGlyphs">250</tspan></text>
<text y="342.4" font-size="10.99" fill="#f2f5f4" stroke="#161618" stroke-width="0.04"><tspan x="797.42" textLength="17.16" lengthAdjust="spacingAndGlyphs">sfw</tspan></text>
<text y="342.4" font-size="10.99" fill="#f2f5f4" stroke="#161618" stroke-width="0.04"><tspan x="840.04" textLength="21.92" lengthAdjust="spacingAndGlyphs">nsfp</tspan></text>
<text y="342.4" font-size="10.99" fill="#f2f5f4" stroke="#161618" stroke-width="0.04"><tspan x="884.13" textLength="23.73" lengthAdjust="spacingAndGlyphs">nsfw</tspan></text>
<text y="342.4" font-size="10.99" fill="#f2f5f4" stroke="#161618" stroke-width="0.04"><tspan x="931.95" textLength="18.11" lengthAdjust="spacingAndGlyphs">nsfl</tspan></text>
<text y="370.2" font-size="13.73" fill="#f2f5f4" stroke="#161618" stroke-width="0.2"><tspan x="790" textLength="37.14" lengthAdjust="spacingAndGlyphs">aktive</tspan> <tspan x="830.61" textLength="57.06" lengthAdjust="spacingAndGlyphs">Accounts</tspan> <tspan x="891.11" textLength="4.31" lengthAdjust="spacingAndGlyphs">-</tspan> <tspan x="898.88" textLength="85.28" lengthAdjust="spacingAndGlyphs">Registrierung</tspan></text>
<text y="409.6" font-size="9.61" fill="#f2f5f4"><tspan x="752.06" textLength="18.44" lengthAdjust="spacingAndGlyphs">30%</tspan></text>
<text y="440.7" font-size="9.61" fill="#f2f5f4"><tspan x="752.06" textLength="18.44" lengthAdjust="spacingAndGlyphs">20%</tspan></text>
<text y="471.5" font-size="9.61" fill="#f2f5f4"><tspan x="752.06" textLength="18.44" lengthAdjust="spacingAndGlyphs">10%</tspan></text>
<text y="512.4" font-size="10.99" fill="#f2f5f4" stroke="#161618" stroke-width="0.04"><tspan x="836.56" textLength="6.88" lengthAdjust="spacingAndGlyphs">--</tspan></text>
<text y="512.4" font-size="10.99" fill="#f2f5f4" stroke="#161618" stroke-width="0.04"><tspan x="856.7" textLength="14.59" lengthAdjust="spacingAndGlyphs">&#x27;19</tspan></text>
<text y="512.4" font-size="10.99" fill="#f2f5f4" stroke="#161618" stroke-width="0.04"><tspan x="880.7" textLength="14.59" lengthAdjust="spacingAndGlyphs">&#x27;20</tspan></text>
<text y="512.4" font-size="10.99" fill="#f2f5f4" stroke="#161618" stroke-width="0.04"><tspan x="904.7" textLength="14.59" lengthAdjust="spacingAndGlyphs">&#x27;21</tspan></text>
<text y="512.4" font-size="10.99" fill="#f2f5f4" stroke="#161618" stroke-width="0.04"><tspan x="928.7" textLength="14.59" lengthAdjust="spacingAndGlyphs">&#x27;22</tspan></text>
<text y="512.4" font-size="10.99" fill="#f2f5f4" stroke="#161618" stroke-width="0.04"><tspan x="952.7" textLength="14.59" lengthAdjust="spacingAndGlyphs">&#x27;23</tspan></text>
<text y="580" font-size="24.72" fill="#f2f5f4" stroke="#161618" stroke-width="0.15"><tspan x="30.5" textLength="88.81" lengthAdjust="spacingAndGlyphs">134.605</tspan></text>
<text y="579.6" font-size="10.99" fill="#e84a4a" stroke="#161618" stroke-width="0.04"><tspan x="122.71" textLength="18.39" lengthAdjust="spacingAndGlyphs">-8%</tspan></text>
<text y="593.5" font-size="13.73" fill="#888888" stroke="#161618" stroke-width="0.2"><tspan x="30.5" textLength="42.17" lengthAdjust="spacingAndGlyphs">Anzahl</tspan> <tspan x="76.14" textLength="82.05" lengthAdjust="spacingAndGlyphs">Kommentare</tspan></text>
<text y="580" font-size="24.72" fill="#f2f5f4" stroke="#161618" stroke-width="0.15"><tspan x="191.5" textLength="75.08" lengthAdjust="spacingAndGlyphs">86.790</tspan></text>
<text y="579.6" font-size="10.99" fill="#e84a4a" stroke="#161618" stroke-width="0.04"><tspan x="269.98" textLength="18.39" lengthAdjust="spacingAndGlyphs">-5%</tspan></text>
<text y="593.5" font-size="13.73" fill="#888888" stroke="#161618" stroke-width="0.2"><tspan x="191.5" textLength="42.17" lengthAdjust="spacingAndGlyphs">Anzahl</tspan> <tspan x="237.14" textLength="28.42" lengthAdjust="spacingAndGlyphs">Tags</tspan></text>
<text y="580" font-size="24.72" fill="#f2f5f4" stroke="#161618" stroke-width="0.15"><tspan x="352.5" textLength="28.5" lengthAdjust="spacingAndGlyphs">1d</tspan> <tspan x="387.23" textLength="61.36" lengthAdjust="spacingAndGlyphs">16:46</tspan></text>
<text y="579.6" font-size="10.99" fill="#e84a4a" stroke="#161618" stroke-width="0.04"><tspan x="451.98" textLength="18.39" lengthAdjust="spacingAndGlyphs">-3%</tspan></text>
<text y="593.5" font-size="13.73" fill="#888888" stroke="#161618" stroke-width="0.2"><tspan x="352.5" textLength="85.3" lengthAdjust="spacingAndGlyphs">Gesamtdauer</tspan></text>
<text y="580" font-size="24.72" fill="#f2f5f4" stroke="#161618" stroke-width="0.15"><tspan x="513.5" textLength="61.36" lengthAdjust="spacingAndGlyphs">31,16</tspan> <tspan x="581.09" textLength="33.08" lengthAdjust="spacingAndGlyphs">GB</tspan></text>
<text y="579.6" font-size="10.99" fill="#e84a4a" stroke="#161618" stroke-width="0.04"><tspan x="617.56" textLength="18.39" lengthAdjust="spacingAndGlyphs">-3%</tspan></text>
<text y="593.5" font-size="13.73" fill="#888888" stroke="#161618" stroke-width="0.2"><tspan x="513.5" textLength="81.7" lengthAdjust="spacingAndGlyphs">Datenmenge</tspan></text>
<text y="580" font-size="24.72" fill="#f2f5f4" stroke="#161618" stroke-width="0.15"><tspan x="674.5" textLength="47.62" lengthAdjust="spacingAndGlyphs">1,89</tspan> <tspan x="728.36" textLength="48.94" lengthAdjust="spacingAndGlyphs">Mio.</tspan></text>
<text y="579.6" font-size="10.99" fill="#e84a4a" stroke="#161618" stroke-width="0.04"><tspan x="780.68" textLength="18.39" lengthAdjust="spacingAndGlyphs">-8%</tspan></text>
<text y="593.5" font-size="13.73" fill="#888888" stroke="#161618" stroke-width="0.2"><tspan x="674.5" textLength="82.14" lengthAdjust="spacingAndGlyphs">Gesamtbenis</tspan></text>
<text y="580" font-size="24.72" fill="#f2f5f4" stroke="#161618" stroke-width="0.15"><tspan x="835.5" textLength="75.08" lengthAdjust="spacingAndGlyphs">14.910</tspan></text>
<text y="579.6" font-size="10.99" fill="#e84a4a" stroke="#161618" stroke-width="0.04"><tspan x="913.98" textLength="18.39" lengthAdjust="spacingAndGlyphs">-3%</tspan></text>
<text y="593.5" font-size="13.73" fill="#888888" stroke="#161618" stroke-width="0.2"><tspan x="835.5" textLength="37.14" lengthAdjust="spacingAndGlyphs">aktive</tspan> <tspan x="876.11" textLength="57.06" lengthAdjust="spacingAndGlyphs">Accounts</tspan></text>
<text y="734.4" font-size="28.32" fill="#64d556"><tspan x="73.2" textLength="47.2" lengthAdjust="spacingAndGlyphs">745</tspan></text>
<text y="723.8" font-size="16.48" fill="#f2f5f4" stroke="#161618" stroke-width="0.07"><tspan x="125" textLength="23.92" lengthAdjust="spacingAndGlyphs">vvs</tspan></text>
<text y="735.9" font-size="10.99" fill="#888888" stroke="#161618" stroke-width="0.04"><tspan x="125" textLength="17.83" lengthAdjust="spacingAndGlyphs">25x</tspan></text>
<text y="776.4" font-size="28.32" fill="#64d556"><tspan x="73.2" textLength="47.2" lengthAdjust="spacingAndGlyphs">685</tspan></text>
<text y="765.8" font-size="16.48" fill="#f2f5f4" stroke="#161618" stroke-width="0.07"><tspan x="125" textLength="46.28" lengthAdjust="spacingAndGlyphs">danke</tspan> <tspan x="175.44" textLength="26.23" lengthAdjust="spacingAndGlyphs">gez</tspan></text>
<text y="777.9" font-size="10.99" fill="#888888" stroke="#161618" stroke-width="0.04"><tspan x="125" textLength="17.83" lengthAdjust="spacingAndGlyphs">17x</tspan></text>
<text y="818.4" font-size="28.32" fill="#64d556"><tspan x="73.2" textLength="47.2" lengthAdjust="spacingAndGlyphs">656</tspan></text>
<text y="807.8" font-size="16.48" fill="#f2f5f4" stroke="#161618" stroke-width="0.07"><tspan x="125" textLength="56.81" lengthAdjust="spacingAndGlyphs">genatzt</tspan></text>
<text y="819.9" font-size="10.99" fill="#888888" stroke="#161618" stroke-width="0.04"><tspan x="125" textLength="17.83" lengthAdjust="spacingAndGlyphs">22x</tspan></text>
<text y="956" font-size="28.32" fill="#e84a4a"><tspan x="73.2" textLength="47.2" lengthAdjust="spacingAndGlyphs">186</tspan></text>
<text y="945.4" font-size="16.48" fill="#f2f5f4" stroke="#161618" stroke-width="0.07"><tspan x="125" textLength="28.78" lengthAdjust="spacingAndGlyphs">halt</tspan> <tspan x="157.94" textLength="32.89" lengthAdjust="spacingAndGlyphs">dein</tspan> <tspan x="194.97" textLength="37.97" lengthAdjust="spacingAndGlyphs">maul</tspan></text>
<text y="956.4" font-size="10.99" fill="#888888" stroke="#161618" stroke-width="0.04"><tspan x="125" textLength="17.83" lengthAdjust="spacingAndGlyphs">28x</tspan></text>
<text y="998" font-size="28.32" fill="#e84a4a"><tspan x="73.2" textLength="47.2" lengthAdjust="spacingAndGlyphs">188</tspan></text>
<text y="987.4" font-size="16.48" fill="#f2f5f4" stroke="#161618" stroke-width="0.07"><tspan x="125" textLength="27.47" lengthAdjust="spacingAndGlyphs">404</tspan> <tspan x="156.62" textLength="106.05" lengthAdjust="spacingAndGlyphs">selbstachtung</tspan></text>
<text y="998.4" font-size="10.99" fill="#888888" stroke="#161618" stroke-width="0.04"><tspan x="125" textLength="17.83" lengthAdjust="spacingAndGlyphs">20x</tspan></text>
<text y="1040" font-size="28.32" fill="#e84a4a"><tspan x="73.2" textLength="47.2" lengthAdjust="spacingAndGlyphs">202</tspan></text>
<text y="1029.4" font-size="16.48" fill="#f2f5f4" stroke="#161618" stroke-width="0.07"><tspan x="125" textLength="73.17" lengthAdjust="spacingAndGlyphs">belanglos</tspan></text>
<text y="1040.4" font-size="10.99" fill="#888888" stroke="#161618" stroke-width="0.04"><tspan x="125" textLength="17.83" lengthAdjust="spacingAndGlyphs">15x</tspan></text>
<text y="734.4" font-size="28.32" fill="#64d556"><tspan x="880.5" textLength="77.42" lengthAdjust="spacingAndGlyphs">61,0%</tspan></text>
<text y="723.8" font-size="16.48" fill="#f2f5f4" stroke="#161618" stroke-width="0.07"><tspan x="716.87" textLength="27.33" lengthAdjust="spacingAndGlyphs">pov</tspan> <tspan x="748.37" textLength="37.38" lengthAdjust="spacingAndGlyphs">nicht</tspan> <tspan x="789.89" textLength="84.83" lengthAdjust="spacingAndGlyphs">verstanden</tspan></text>
<text y="735.9" font-size="10.99" fill="#888888" stroke="#161618" stroke-width="0.04"><tspan x="856.87" textLength="17.83" lengthAdjust="spacingAndGlyphs">22x</tspan></text>
<text y="776.4" font-size="28.32" fill="#64d556"><tspan x="880.5" textLength="77.42" lengthAdjust="spacingAndGlyphs">59,6%</tspan></text>
<text y="765.8" font-size="16.48" fill="#f2f5f4" stroke="#161618" stroke-width="0.07"><tspan x="761.28" textLength="18.14" lengthAdjust="spacingAndGlyphs">1a</tspan> <tspan x="783.58" textLength="91.14" lengthAdjust="spacingAndGlyphs">hurensöhne</tspan></text>
<text y="777.9" font-size="10.99" fill="#888888" stroke="#161618" stroke-width="0.04"><tspan x="856.87" textLength="17.83" lengthAdjust="spacingAndGlyphs">55x</tspan></text>
<text y="818.4" font-size="28.32" fill="#64d556"><tspan x="880.5" textLength="77.42" lengthAdjust="spacingAndGlyphs">58,7%</tspan></text>
<text y="807.8" font-size="16.48" fill="#f2f5f4" stroke="#161618" stroke-width="0.07"><tspan x="752.2" textLength="122.5" lengthAdjust="spacingAndGlyphs">hurensohnfrisur</tspan></text>
<text y="819.9" font-size="10.99" fill="#888888" stroke="#161618" stroke-width="0.04"><tspan x="856.87" textLength="17.83" lengthAdjust="spacingAndGlyphs">28x</tspan></text>
<text y="956" font-size="28.32" fill="#e84a4a"><tspan x="880.5" textLength="77.42" lengthAdjust="spacingAndGlyphs">10,4%</tspan></text>
<text y="945.4" font-size="16.48" fill="#f2f5f4" stroke="#161618" stroke-width="0.07"><tspan x="754.95" textLength="88.75" lengthAdjust="spacingAndGlyphs">faghammer</tspan> <tspan x="847.86" textLength="26.86" lengthAdjust="spacingAndGlyphs">69k</tspan></text>
<text y="956.4" font-size="10.99" fill="#888888" stroke="#161618" stroke-width="0.04"><tspan x="856.87" textLength="17.83" lengthAdjust="spacingAndGlyphs">18x</tspan></text>
<text y="998" font-size="28.32" fill="#e84a4a"><tspan x="880.5" textLength="61.69" lengthAdjust="spacingAndGlyphs">7,6%</tspan></text>
<text y="987.4" font-size="16.48" fill="#f2f5f4" stroke="#161618" stroke-width="0.07"><tspan x="685.5" textLength="81.8" lengthAdjust="spacingAndGlyphs">22.02.2022</tspan> <tspan x="771.45" textLength="42.38" lengthAdjust="spacingAndGlyphs">never</tspan> <tspan x="817.97" textLength="56.75" lengthAdjust="spacingAndGlyphs">ukraine</tspan></text>
<text y="998.4" font-size="10.99" fill="#888888" stroke="#161618" stroke-width="0.04"><tspan x="856.87" textLength="17.83" lengthAdjust="spacingAndGlyphs">25x</tspan></text>
<text y="1040" font-size="28.32" fill="#e84a4a"><tspan x="880.5" textLength="61.69" lengthAdjust="spacingAndGlyphs">4,8%</tspan></text>
<text y="1029.4" font-size="16.48" fill="#f2f5f4" stroke="#161618" stroke-width="0.07"><tspan x="666.33" textLength="56.75" lengthAdjust="spacingAndGlyphs">ukraine</tspan> <tspan x="727.23" textLength="24.66" lengthAdjust="spacingAndGlyphs">hat</tspan> <tspan x="756.03" textLength="51.77" lengthAdjust="spacingAndGlyphs">bereits</tspan> <tspan x="811.93" textLength="62.78" lengthAdjust="spacingAndGlyphs">verloren</tspan></text>
<text y="1040.4" font-size="10.99" fill="#888888" stroke="#161618" stroke-width="0.04"><tspan x="856.87" textLength="17.83" lengthAdjust="spacingAndGlyphs">23x</tspan></text>
<text y="876.5" font-size="42.75" fill="#f2f5f4" stroke="#161618" stroke-width="0.2"><tspan x="72" textLength="47.48" lengthAdjust="spacingAndGlyphs">69</tspan></text>
<text y="867" font-size="17.85" fill="#f2f5f4" stroke="#2a2e31" stroke-width="0.08"><tspan x="145" textLength="87.33" lengthAdjust="spacingAndGlyphs">pr0gramm</tspan></text>
<text y="866.3" font-size="16.48" fill="#888888" stroke="#2a2e31" stroke-width="0.07"><tspan x="250.5" textLength="9.16" lengthAdjust="spacingAndGlyphs">+</tspan></text>
<text y="866.3" font-size="16.48" fill="#888888" stroke="#2a2e31" stroke-width="0.07"><tspan x="273" textLength="5.16" lengthAdjust="spacingAndGlyphs">-</tspan></text>
<text y="876.5" font-size="42.75" fill="#f2f5f4" stroke="#161618" stroke-width="0.2"><tspan x="747" textLength="47.48" lengthAdjust="spacingAndGlyphs">69</tspan></text>
<text y="867" font-size="17.85" fill="#f2f5f4" stroke="#2a2e31" stroke-width="0.08"><tspan x="820" textLength="87.33" lengthAdjust="spacingAndGlyphs">pr0gramm</tspan></text>
<text y="866.3" font-size="16.48" fill="#ee4d2e" stroke="#2a2e31" stroke-width="0.07"><tspan x="925.5" textLength="9.16" lengthAdjust="spacingAndGlyphs">+</tspan></text>
<text y="866.3" font-size="16.48" fill="#44474a" stroke="#2a2e31" stroke-width="0.07"><tspan x="948" textLength="5.16" lengthAdjust="spacingAndGlyphs">-</tspan></text>
<text y="898.5" font-size="13.73" fill="#888888" stroke="#161618" stroke-width="0.2"><tspan x="70" textLength="120.33" lengthAdjust="spacingAndGlyphs">Durchschnittsbenis</tspan> <tspan x="193.78" textLength="27.39" lengthAdjust="spacingAndGlyphs">aller</tspan> <tspan x="224.62" textLength="51.52" lengthAdjust="spacingAndGlyphs">Uploads</tspan></text>
<text y="913.5" font-size="13.73" fill="#888888" stroke="#161618" stroke-width="0.2"><tspan x="70" textLength="20.72" lengthAdjust="spacingAndGlyphs">mit</tspan> <tspan x="94.19" textLength="45.53" lengthAdjust="spacingAndGlyphs">diesem</tspan> <tspan x="143.17" textLength="22.03" lengthAdjust="spacingAndGlyphs">Tag</tspan></text>
<text y="898.5" font-size="13.73" fill="#888888" stroke="#161618" stroke-width="0.2"><tspan x="745" textLength="109.19" lengthAdjust="spacingAndGlyphs">Durchschnittliche</tspan> <tspan x="857.66" textLength="68.61" lengthAdjust="spacingAndGlyphs">confidence</tspan></text>
<text y="913.5" font-size="13.73" fill="#888888" stroke="#161618" stroke-width="0.2"><tspan x="745" textLength="33.09" lengthAdjust="spacingAndGlyphs">eines</tspan> <tspan x="781.56" textLength="28.42" lengthAdjust="spacingAndGlyphs">Tags</tspan></text>
<text y="735.2" font-size="27.47" fill="#f2f5f4" stroke="#161618" stroke-width="0.14"><tspan x="465.93" textLength="68.14" lengthAdjust="spacingAndGlyphs">10,36</tspan></text>
<text y="749.5" font-size="13.73" fill="#888888" stroke="#161618" stroke-width="0.2"><tspan x="449.02" textLength="28.41" lengthAdjust="spacingAndGlyphs">Tags</tspan> <tspan x="480.9" textLength="21.52" lengthAdjust="spacingAndGlyphs">pro</tspan> <tspan x="505.87" textLength="45.12" lengthAdjust="spacingAndGlyphs">Upload</tspan></text>
<text y="793.2" font-size="27.47" fill="#f2f5f4" stroke="#161618" stroke-width="0.14"><tspan x="458.3" textLength="83.39" lengthAdjust="spacingAndGlyphs">34.104</tspan></text>
<text y="807.5" font-size="13.73" fill="#888888" stroke="#161618" stroke-width="0.2"><tspan x="462.13" textLength="43.88" lengthAdjust="spacingAndGlyphs">unique</tspan> <tspan x="509.46" textLength="28.42" lengthAdjust="spacingAndGlyphs">Tags</tspan></text>
<text y="851.2" font-size="27.47" fill="#f2f5f4" stroke="#161618" stroke-width="0.14"><tspan x="473.55" textLength="52.89" lengthAdjust="spacingAndGlyphs">1,94</tspan></text>
<text y="865.5" font-size="13.73" fill="#888888" stroke="#161618" stroke-width="0.2"><tspan x="453.01" textLength="43.53" lengthAdjust="spacingAndGlyphs">Wörter</tspan> <tspan x="500.01" textLength="21.52" lengthAdjust="spacingAndGlyphs">pro</tspan> <tspan x="524.98" textLength="22.03" lengthAdjust="spacingAndGlyphs">Tag</tspan></text>
<text y="909.2" font-size="27.47" fill="#f2f5f4" stroke="#161618" stroke-width="0.14"><tspan x="492.38" textLength="15.25" lengthAdjust="spacingAndGlyphs">4</tspan></text>
<text y="923.5" font-size="13.73" fill="#888888" stroke="#161618" stroke-width="0.2"><tspan x="440.55" textLength="51.5" lengthAdjust="spacingAndGlyphs">Uploads</tspan> <tspan x="495.52" textLength="32.08" lengthAdjust="spacingAndGlyphs">ohne</tspan> <tspan x="531.04" textLength="28.42" lengthAdjust="spacingAndGlyphs">Tags</tspan></text>
<text y="967.3" font-size="17.85" fill="#f2f5f4" stroke="#161618" stroke-width="0.08"><tspan x="401.21" textLength="27.88" lengthAdjust="spacingAndGlyphs">wie</tspan> <tspan x="433.59" textLength="40.41" lengthAdjust="spacingAndGlyphs">kann</tspan> <tspan x="478.49" textLength="28.69" lengthAdjust="spacingAndGlyphs">das</tspan> <tspan x="511.66" textLength="41.86" lengthAdjust="spacingAndGlyphs">denn</tspan> <tspan x="558.02" textLength="40.78" lengthAdjust="spacingAndGlyphs">sein?</tspan></text>
<text y="982.4" font-size="13.73" fill="#888888" stroke="#161618" stroke-width="0.2"><tspan x="422.66" textLength="129.2" lengthAdjust="spacingAndGlyphs">Meistkommentierter</tspan> <tspan x="555.33" textLength="22.03" lengthAdjust="spacingAndGlyphs">Tag</tspan></text>
<text y="996" font-size="13.73" fill="#888888" stroke="#161618" stroke-width="0.2"><tspan x="433.09" textLength="17.98" lengthAdjust="spacingAndGlyphs">(Ø:</tspan> <tspan x="454.54" textLength="22.89" lengthAdjust="spacingAndGlyphs">109</tspan> <tspan x="480.87" textLength="86.06" lengthAdjust="spacingAndGlyphs">Kommentare)</tspan></text>
<text y="1024" font-size="27.47" fill="#f2f5f4" stroke="#161618" stroke-width="0.14"><tspan x="415.88" textLength="77.17" lengthAdjust="spacingAndGlyphs">rechts</tspan> <tspan x="499.99" textLength="84.14" lengthAdjust="spacingAndGlyphs">(18:12)</tspan></text>
<text y="1040.2" font-size="13.73" fill="#888888" stroke="#161618" stroke-width="0.2"><tspan x="418.71" textLength="33.73" lengthAdjust="spacingAndGlyphs">mehr</tspan> <tspan x="455.9" textLength="34.08" lengthAdjust="spacingAndGlyphs">&quot;links</tspan> <tspan x="493.43" textLength="7.62" lengthAdjust="spacingAndGlyphs">&gt;</tspan> <tspan x="504.51" textLength="44.05" lengthAdjust="spacingAndGlyphs">rechts&quot;</tspan> <tspan x="551.99" textLength="29.31" lengthAdjust="spacingAndGlyphs">oder</tspan></text>
<text y="1053.8" font-size="13.73" fill="#888888" stroke="#161618" stroke-width="0.2"><tspan x="406.06" textLength="33.73" lengthAdjust="spacingAndGlyphs">mehr</tspan> <tspan x="443.25" textLength="43.64" lengthAdjust="spacingAndGlyphs">&quot;rechts</tspan> <tspan x="490.34" textLength="7.64" lengthAdjust="spacingAndGlyphs">&gt;</tspan> <tspan x="501.44" textLength="34.06" lengthAdjust="spacingAndGlyphs">links&quot;</tspan> <tspan x="538.95" textLength="55" lengthAdjust="spacingAndGlyphs">getaggt?</tspan></text>
<text y="1170.2" font-size="27.47" fill="#f2f5f4" stroke="#161618" stroke-width="0.14"><tspan x="465.93" textLength="68.14" lengthAdjust="spacingAndGlyphs">16,06</tspan></text>
<text y="1185" font-size="13.73" fill="#888888" stroke="#161618" stroke-width="0.2"><tspan x="422.2" textLength="82.05" lengthAdjust="spacingAndGlyphs">Kommentare</tspan> <tspan x="507.7" textLength="21.52" lengthAdjust="spacingAndGlyphs">pro</tspan> <tspan x="532.67" textLength="45.14" lengthAdjust="spacingAndGlyphs">Upload</tspan></text>
<text y="1220.2" font-size="27.47" fill="#f2f5f4" stroke="#161618" stroke-width="0.14"><tspan x="473.55" textLength="52.89" lengthAdjust="spacingAndGlyphs">3,31</tspan></text>
<text y="1235" font-size="13.73" fill="#888888" stroke="#161618" stroke-width="0.2"><tspan x="393.11" textLength="107.66" lengthAdjust="spacingAndGlyphs">durchschnittliche</tspan> <tspan x="504.23" textLength="102.67" lengthAdjust="spacingAndGlyphs">Kommentartiefe</tspan></text>
<text y="1270.2" font-size="27.47" fill="#f2f5f4" stroke="#161618" stroke-width="0.14"><tspan x="477.12" textLength="45.75" lengthAdjust="spacingAndGlyphs">134</tspan></text>
<text y="1285" font-size="13.73" fill="#888888" stroke="#161618" stroke-width="0.2"><tspan x="423.91" textLength="48.97" lengthAdjust="spacingAndGlyphs">Zeichen</tspan> <tspan x="476.34" textLength="21.52" lengthAdjust="spacingAndGlyphs">pro</tspan> <tspan x="501.31" textLength="74.8" lengthAdjust="spacingAndGlyphs">Kommentar</tspan></text>
<text y="1320.2" font-size="27.47" fill="#f2f5f4" stroke="#161618" stroke-width="0.14"><tspan x="462.48" textLength="75.05" lengthAdjust="spacingAndGlyphs">31,3%</tspan></text>
<text y="1335" font-size="13.73" fill="#888888" stroke="#161618" stroke-width="0.2"><tspan x="359.78" textLength="33.72" lengthAdjust="spacingAndGlyphs">Posts</tspan> <tspan x="396.97" textLength="20.72" lengthAdjust="spacingAndGlyphs">mit</tspan> <tspan x="421.14" textLength="11.2" lengthAdjust="spacingAndGlyphs">1.</tspan> <tspan x="435.8" textLength="74.8" lengthAdjust="spacingAndGlyphs">Kommentar</tspan> <tspan x="514.05" textLength="27.31" lengthAdjust="spacingAndGlyphs">vom</tspan> <tspan x="544.81" textLength="41.3" lengthAdjust="spacingAndGlyphs">selben</tspan> <tspan x="589.56" textLength="50.67" lengthAdjust="spacingAndGlyphs">Account</tspan></text>
<text y="1370.2" font-size="27.47" fill="#f2f5f4" stroke="#161618" stroke-width="0.14"><tspan x="461.85" textLength="52.89" lengthAdjust="spacingAndGlyphs">0:36</tspan> <tspan x="521.68" textLength="16.48" lengthAdjust="spacingAndGlyphs">h</tspan></text>
<text y="1385" font-size="13.73" fill="#888888" stroke="#161618" stroke-width="0.2"><tspan x="373.47" textLength="23.41" lengthAdjust="spacingAndGlyphs">Zeit</tspan> <tspan x="400.33" textLength="18.05" lengthAdjust="spacingAndGlyphs">bis</tspan> <tspan x="421.81" textLength="11.22" lengthAdjust="spacingAndGlyphs">1.</tspan> <tspan x="436.48" textLength="74.8" lengthAdjust="spacingAndGlyphs">Kommentar</tspan> <tspan x="514.73" textLength="53.69" lengthAdjust="spacingAndGlyphs">(anderer</tspan> <tspan x="571.88" textLength="54.67" lengthAdjust="spacingAndGlyphs">Account)</tspan></text>
<text y="1420.2" font-size="27.47" fill="#f2f5f4" stroke="#161618" stroke-width="0.14"><tspan x="465.93" textLength="68.14" lengthAdjust="spacingAndGlyphs">1.246</tspan></text>
<text y="1435" font-size="13.73" fill="#888888" stroke="#161618" stroke-width="0.2"><tspan x="426.26" textLength="33.72" lengthAdjust="spacingAndGlyphs">Posts</tspan> <tspan x="463.45" textLength="32.06" lengthAdjust="spacingAndGlyphs">ohne</tspan> <tspan x="498.96" textLength="74.8" lengthAdjust="spacingAndGlyphs">Kommentar</tspan></text>
<text y="1470.2" font-size="27.47" fill="#74c2c4" stroke="#161618" stroke-width="0.14"><tspan x="455.6" textLength="88.8" lengthAdjust="spacingAndGlyphs">@TLDR</tspan></text>
<text y="1485" font-size="13.73" fill="#888888" stroke="#161618" stroke-width="0.2"><tspan x="397.3" textLength="20.72" lengthAdjust="spacingAndGlyphs">mit</tspan> <tspan x="421.49" textLength="29.94" lengthAdjust="spacingAndGlyphs">176x</tspan> <tspan x="454.88" textLength="19.95" lengthAdjust="spacingAndGlyphs">am</tspan> <tspan x="478.27" textLength="67.14" lengthAdjust="spacingAndGlyphs">häufigsten</tspan> <tspan x="548.87" textLength="53.84" lengthAdjust="spacingAndGlyphs">markiert</tspan></text>
<clipPath id="c161" clipPathUnits="userSpaceOnUse"><path d="M-3.2 1171.4H41.8V1227H20.2V1233.4H15.4V1227H-3.2Z"/></clipPath>
<text y="1231.4" font-size="57.41" fill="#8a8a8a" stroke="#161618" stroke-width="2.35" clip-path="url(#c161)"><tspan x="1.8" textLength="30.41" lengthAdjust="spacingAndGlyphs">1</tspan></text>
<text y="1204.8" font-size="21.97" fill="#f2f5f4" stroke="#161618" stroke-width="0.09"><tspan x="50" textLength="81.06" lengthAdjust="spacingAndGlyphs">ElPajero</tspan></text>
<text y="1230.1" font-size="19.23" fill="#f2f5f4" stroke="#161618" stroke-width="0.05"><tspan x="78" textLength="32.02" lengthAdjust="spacingAndGlyphs">730</tspan></text>
<text y="1230.1" font-size="13.73" fill="#888888" stroke="#161618" stroke-width="0.2"><tspan x="114.4" textLength="82.05" lengthAdjust="spacingAndGlyphs">Kommentare</tspan> <tspan x="199.9" textLength="20.73" lengthAdjust="spacingAndGlyphs">mit</tspan></text>
<text y="1230.1" font-size="19.23" fill="#64d556" stroke="#161618" stroke-width="0.05"><tspan x="245.2" textLength="26.34" lengthAdjust="spacingAndGlyphs">7,8</tspan></text>
<text y="1311.4" font-size="57.41" fill="#8a8a8a" stroke="#161618" stroke-width="2.35"><tspan x="1.4" textLength="30.41" lengthAdjust="spacingAndGlyphs">2</tspan></text>
<text y="1284.8" font-size="21.97" fill="#f2f5f4" stroke="#161618" stroke-width="0.09"><tspan x="50" textLength="124.67" lengthAdjust="spacingAndGlyphs">Schmalzbrot</tspan></text>
<text y="1310.1" font-size="19.23" fill="#f2f5f4" stroke="#161618" stroke-width="0.05"><tspan x="78" textLength="32.02" lengthAdjust="spacingAndGlyphs">576</tspan></text>
<text y="1310.1" font-size="13.73" fill="#888888" stroke="#161618" stroke-width="0.2"><tspan x="114.4" textLength="82.05" lengthAdjust="spacingAndGlyphs">Kommentare</tspan> <tspan x="199.9" textLength="20.73" lengthAdjust="spacingAndGlyphs">mit</tspan></text>
<text y="1310.1" font-size="19.23" fill="#64d556" stroke="#161618" stroke-width="0.05"><tspan x="245.2" textLength="26.34" lengthAdjust="spacingAndGlyphs">8,5</tspan></text>
<text y="1391.4" font-size="57.41" fill="#8a8a8a" stroke="#161618" stroke-width="2.35"><tspan x="1.4" textLength="30.41" lengthAdjust="spacingAndGlyphs">3</tspan></text>
<text y="1364.8" font-size="21.97" fill="#f2f5f4" stroke="#161618" stroke-width="0.09"><tspan x="50" textLength="63.86" lengthAdjust="spacingAndGlyphs">IceTea</tspan></text>
<text y="1390.1" font-size="19.23" fill="#f2f5f4" stroke="#161618" stroke-width="0.05"><tspan x="78" textLength="32.02" lengthAdjust="spacingAndGlyphs">575</tspan></text>
<text y="1390.1" font-size="13.73" fill="#888888" stroke="#161618" stroke-width="0.2"><tspan x="114.4" textLength="82.05" lengthAdjust="spacingAndGlyphs">Kommentare</tspan> <tspan x="199.9" textLength="20.73" lengthAdjust="spacingAndGlyphs">mit</tspan></text>
<text y="1390.1" font-size="19.23" fill="#64d556" stroke="#161618" stroke-width="0.05"><tspan x="245.2" textLength="26.34" lengthAdjust="spacingAndGlyphs">8,7</tspan></text>
<text y="1435" font-size="16.89" font-weight="700" fill="#888888"><tspan x="35.2" textLength="116.53" lengthAdjust="spacingAndGlyphs">KOMMENTARE</tspan> <tspan x="155.98" textLength="19.72" lengthAdjust="spacingAndGlyphs">IN</tspan> <tspan x="179.95" textLength="9.39" lengthAdjust="spacingAndGlyphs">1</tspan> <tspan x="193.59" textLength="60.91" lengthAdjust="spacingAndGlyphs">WOCHE</tspan></text>
<clipPath id="c177" clipPathUnits="userSpaceOnUse"><path d="M962.89 1171.4H1007.89V1227H986.29V1233.4H981.49V1227H962.89Z"/></clipPath>
<text y="1231.4" font-size="57.41" fill="#8a8a8a" stroke="#161618" stroke-width="2.35" clip-path="url(#c177)"><tspan x="967.89" textLength="30.41" lengthAdjust="spacingAndGlyphs">1</tspan></text>
<text y="1204.9" font-size="21.97" fill="#f2f5f4" stroke="#161618" stroke-width="0.09"><tspan x="902.31" textLength="26.69" lengthAdjust="spacingAndGlyphs">txt</tspan></text>
<text y="1229.8" font-size="19.23" fill="#f2f5f4" stroke="#161618" stroke-width="0.05"><tspan x="899.67" textLength="52.53" lengthAdjust="spacingAndGlyphs">97,3%</tspan></text>
<text y="1220.3" font-size="10.99" font-weight="700" fill="#5fce4f"><tspan x="718.7" textLength="9.09" lengthAdjust="spacingAndGlyphs">1.</tspan> <tspan x="730.58" textLength="26.06" lengthAdjust="spacingAndGlyphs">Platz</tspan></text>
<text y="1220.3" font-size="10.99" fill="#888888" stroke="#161618" stroke-width="0.04"><tspan x="761.83" textLength="62.84" lengthAdjust="spacingAndGlyphs">Wochentage</tspan> <tspan x="827.43" textLength="16.58" lengthAdjust="spacingAndGlyphs">mit</tspan> <tspan x="846.76" textLength="40.95" lengthAdjust="spacingAndGlyphs">Aktivität</tspan></text>
<text y="1231.1" font-size="10.99" fill="#888888" stroke="#161618" stroke-width="0.04"><tspan x="704.27" textLength="16.56" lengthAdjust="spacingAndGlyphs">mit</tspan> <tspan x="723.61" textLength="6.11" lengthAdjust="spacingAndGlyphs">1</tspan> <tspan x="732.47" textLength="43.8" lengthAdjust="spacingAndGlyphs">weiteren</tspan> <tspan x="779.02" textLength="32.38" lengthAdjust="spacingAndGlyphs">Metrik</tspan> <tspan x="814.16" textLength="9.34" lengthAdjust="spacingAndGlyphs">in</tspan> <tspan x="826.25" textLength="19.17" lengthAdjust="spacingAndGlyphs">den</tspan></text>
<text y="1231.1" font-size="10.99" font-weight="700" fill="#5fce4f"><tspan x="850.61" textLength="37.09" lengthAdjust="spacingAndGlyphs">Top100</tspan></text>
<text y="1311.4" font-size="57.41" fill="#8a8a8a" stroke="#161618" stroke-width="2.35"><tspan x="966.59" textLength="30.41" lengthAdjust="spacingAndGlyphs">2</tspan></text>
<text y="1284.9" font-size="21.97" fill="#f2f5f4" stroke="#161618" stroke-width="0.09"><tspan x="843.66" textLength="85.34" lengthAdjust="spacingAndGlyphs">zergface</tspan></text>
<text y="1309.8" font-size="19.23" fill="#f2f5f4" stroke="#161618" stroke-width="0.05"><tspan x="899.67" textLength="52.53" lengthAdjust="spacingAndGlyphs">95,1%</tspan></text>
<text y="1300.3" font-size="10.99" font-weight="700" fill="#5fce4f"><tspan x="718.7" textLength="9.09" lengthAdjust="spacingAndGlyphs">1.</tspan> <tspan x="730.58" textLength="26.06" lengthAdjust="spacingAndGlyphs">Platz</tspan></text>
<text y="1300.3" font-size="10.99" fill="#888888" stroke="#161618" stroke-width="0.04"><tspan x="761.83" textLength="62.84" lengthAdjust="spacingAndGlyphs">Wochentage</tspan> <tspan x="827.43" textLength="16.58" lengthAdjust="spacingAndGlyphs">mit</tspan> <tspan x="846.76" textLength="40.95" lengthAdjust="spacingAndGlyphs">Aktivität</tspan></text>
<text y="1391.4" font-size="57.41" fill="#8a8a8a" stroke="#161618" stroke-width="2.35"><tspan x="966.59" textLength="30.41" lengthAdjust="spacingAndGlyphs">3</tspan></text>
<text y="1364.9" font-size="21.97" fill="#f2f5f4" stroke="#161618" stroke-width="0.09"><tspan x="795.86" textLength="133.14" lengthAdjust="spacingAndGlyphs">AdmiralMayo</tspan></text>
<text y="1389.8" font-size="19.23" fill="#f2f5f4" stroke="#161618" stroke-width="0.05"><tspan x="899.67" textLength="52.53" lengthAdjust="spacingAndGlyphs">94,0%</tspan></text>
<text y="1380.3" font-size="10.99" fill="#888888" stroke="#161618" stroke-width="0.04"><tspan x="750.81" textLength="16.56" lengthAdjust="spacingAndGlyphs">mit</tspan> <tspan x="770.16" textLength="6.11" lengthAdjust="spacingAndGlyphs">1</tspan> <tspan x="779.02" textLength="32.38" lengthAdjust="spacingAndGlyphs">Metrik</tspan> <tspan x="814.16" textLength="9.34" lengthAdjust="spacingAndGlyphs">in</tspan> <tspan x="826.25" textLength="19.17" lengthAdjust="spacingAndGlyphs">den</tspan></text>
<text y="1380.3" font-size="10.99" font-weight="700" fill="#5fce4f"><tspan x="850.61" textLength="37.09" lengthAdjust="spacingAndGlyphs">Top100</tspan></text>
<text y="1434.6" font-size="16.89" font-weight="700" fill="#888888"><tspan x="797.36" textLength="79.55" lengthAdjust="spacingAndGlyphs">ACCOUNT</tspan> <tspan x="881.17" textLength="82.84" lengthAdjust="spacingAndGlyphs">WERTUNG</tspan></text>
<text y="1447.8" font-size="10.99" fill="#888888" stroke="#161618" stroke-width="0.04"><tspan x="717.84" textLength="6.11" lengthAdjust="spacingAndGlyphs">8</tspan> <tspan x="726.72" textLength="47.83" lengthAdjust="spacingAndGlyphs">Metriken,</tspan> <tspan x="777.3" textLength="27.16" lengthAdjust="spacingAndGlyphs">100%</tspan> <tspan x="807.22" textLength="27.56" lengthAdjust="spacingAndGlyphs">wenn</tspan> <tspan x="837.55" textLength="9.34" lengthAdjust="spacingAndGlyphs">in</tspan> <tspan x="849.66" textLength="24.08" lengthAdjust="spacingAndGlyphs">allen</tspan> <tspan x="876.5" textLength="32.84" lengthAdjust="spacingAndGlyphs">alleine</tspan> <tspan x="912.09" textLength="16.25" lengthAdjust="spacingAndGlyphs">auf</tspan> <tspan x="931.09" textLength="24.05" lengthAdjust="spacingAndGlyphs">Platz</tspan> <tspan x="957.89" textLength="6.12" lengthAdjust="spacingAndGlyphs">1</tspan></text>
<clipPath id="c196" clipPathUnits="userSpaceOnUse"><path d="M-3.2 1581.3H41.8V1636.9H20.2V1643.3H15.4V1636.9H-3.2Z"/></clipPath>
<text y="1641.3" font-size="57.41" fill="#8a8a8a" stroke="#161618" stroke-width="2.35" clip-path="url(#c196)"><tspan x="1.8" textLength="30.41" lengthAdjust="spacingAndGlyphs">1</tspan></text>
<text y="1614.7" font-size="21.97" fill="#f2f5f4" stroke="#161618" stroke-width="0.09"><tspan x="50" textLength="118.5" lengthAdjust="spacingAndGlyphs">Nerowinger</tspan></text>
<text y="1640" font-size="19.23" fill="#64d556" stroke="#161618" stroke-width="0.05"><tspan x="79.31" textLength="47.69" lengthAdjust="spacingAndGlyphs">1.036</tspan></text>
<text y="1640" font-size="13.73" fill="#888888" stroke="#161618" stroke-width="0.2"><tspan x="135.2" textLength="34.83" lengthAdjust="spacingAndGlyphs">dabei</tspan> <tspan x="173.5" textLength="22.17" lengthAdjust="spacingAndGlyphs">seit</tspan> <tspan x="199.12" textLength="68.14" lengthAdjust="spacingAndGlyphs">19.08.2023</tspan></text>
<text y="1716.3" font-size="57.41" fill="#8a8a8a" stroke="#161618" stroke-width="2.35"><tspan x="1.4" textLength="30.41" lengthAdjust="spacingAndGlyphs">2</tspan></text>
<text y="1689.7" font-size="21.97" fill="#f2f5f4" stroke="#161618" stroke-width="0.09"><tspan x="50" textLength="147.77" lengthAdjust="spacingAndGlyphs">GuanoGobbler</tspan></text>
<text y="1715" font-size="19.23" fill="#64d556" stroke="#161618" stroke-width="0.05"><tspan x="94.98" textLength="32.02" lengthAdjust="spacingAndGlyphs">831</tspan></text>
<text y="1715" font-size="13.73" fill="#888888" stroke="#161618" stroke-width="0.2"><tspan x="135.2" textLength="34.83" lengthAdjust="spacingAndGlyphs">dabei</tspan> <tspan x="173.5" textLength="22.17" lengthAdjust="spacingAndGlyphs">seit</tspan> <tspan x="199.12" textLength="68.14" lengthAdjust="spacingAndGlyphs">18.08.2023</tspan></text>
<text y="1791.3" font-size="57.41" fill="#8a8a8a" stroke="#161618" stroke-width="2.35"><tspan x="1.4" textLength="30.41" lengthAdjust="spacingAndGlyphs">3</tspan></text>
<text y="1764.7" font-size="21.97" fill="#f2f5f4" stroke="#161618" stroke-width="0.09"><tspan x="50" textLength="106.95" lengthAdjust="spacingAndGlyphs">soderdaen</tspan></text>
<text y="1790" font-size="19.23" fill="#64d556" stroke="#161618" stroke-width="0.05"><tspan x="94.98" textLength="32.02" lengthAdjust="spacingAndGlyphs">604</tspan></text>
<text y="1790" font-size="13.73" fill="#888888" stroke="#161618" stroke-width="0.2"><tspan x="135.2" textLength="34.83" lengthAdjust="spacingAndGlyphs">dabei</tspan> <tspan x="173.5" textLength="22.17" lengthAdjust="spacingAndGlyphs">seit</tspan> <tspan x="199.12" textLength="68.14" lengthAdjust="spacingAndGlyphs">27.06.2023</tspan></text>
<text y="1830" font-size="16.89" font-weight="700" fill="#888888"><tspan x="35.2" textLength="96.59" lengthAdjust="spacingAndGlyphs">KICKSTARTS</tspan> <tspan x="136.06" textLength="19.55" lengthAdjust="spacingAndGlyphs">(1.</tspan> <tspan x="159.86" textLength="72.95" lengthAdjust="spacingAndGlyphs">UPLOAD)</tspan></text>
<text y="1842.1" font-size="10.99" fill="#888888" stroke="#161618" stroke-width="0.04"><tspan x="35.2" textLength="63.5" lengthAdjust="spacingAndGlyphs">Accountalter</tspan> <tspan x="101.47" textLength="43.03" lengthAdjust="spacingAndGlyphs">maximal</tspan> <tspan x="147.26" textLength="12.2" lengthAdjust="spacingAndGlyphs">10</tspan> <tspan x="162.22" textLength="40.47" lengthAdjust="spacingAndGlyphs">Wochen</tspan></text>
<text y="1614.7" font-size="21.97" fill="#f2f5f4" stroke="#161618" stroke-width="0.09"><tspan x="399.8" textLength="88.84" lengthAdjust="spacingAndGlyphs">JagicMay</tspan></text>
<text y="1640" font-size="19.23" fill="#f2f5f4" stroke="#161618" stroke-width="0.05"><tspan x="410.6" textLength="32.02" lengthAdjust="spacingAndGlyphs">158</tspan></text>
<text y="1640" font-size="13.73" fill="#888888" stroke="#161618" stroke-width="0.2"><tspan x="446.3" textLength="51.5" lengthAdjust="spacingAndGlyphs">Uploads</tspan> <tspan x="501.27" textLength="20.73" lengthAdjust="spacingAndGlyphs">mit</tspan></text>
<text y="1640" font-size="19.23" fill="#64d556" stroke="#161618" stroke-width="0.05"><tspan x="545.2" textLength="21.34" lengthAdjust="spacingAndGlyphs">87</tspan></text>
<text y="1689.7" font-size="21.97" fill="#f2f5f4" stroke="#161618" stroke-width="0.09"><tspan x="399.8" textLength="105" lengthAdjust="spacingAndGlyphs">ctang2277</tspan></text>
<text y="1715" font-size="19.23" fill="#f2f5f4" stroke="#161618" stroke-width="0.05"><tspan x="410.6" textLength="32.02" lengthAdjust="spacingAndGlyphs">133</tspan></text>
<text y="1715" font-size="13.73" fill="#888888" stroke="#161618" stroke-width="0.2"><tspan x="446.3" textLength="51.5" lengthAdjust="spacingAndGlyphs">Uploads</tspan> <tspan x="501.27" textLength="20.73" lengthAdjust="spacingAndGlyphs">mit</tspan></text>
<text y="1715" font-size="19.23" fill="#64d556" stroke="#161618" stroke-width="0.05"><tspan x="545.2" textLength="21.34" lengthAdjust="spacingAndGlyphs">75</tspan></text>
<text y="1764.7" font-size="21.97" fill="#f2f5f4" stroke="#161618" stroke-width="0.09"><tspan x="399.8" textLength="63.78" lengthAdjust="spacingAndGlyphs">Tzehle</tspan></text>
<text y="1790" font-size="19.23" fill="#f2f5f4" stroke="#161618" stroke-width="0.05"><tspan x="410.6" textLength="32.02" lengthAdjust="spacingAndGlyphs">132</tspan></text>
<text y="1790" font-size="13.73" fill="#888888" stroke="#161618" stroke-width="0.2"><tspan x="446.3" textLength="51.5" lengthAdjust="spacingAndGlyphs">Uploads</tspan> <tspan x="501.27" textLength="20.73" lengthAdjust="spacingAndGlyphs">mit</tspan></text>
<text y="1790" font-size="19.23" fill="#64d556" stroke="#161618" stroke-width="0.05"><tspan x="545.2" textLength="21.34" lengthAdjust="spacingAndGlyphs">59</tspan></text>
<text y="1829.7" font-size="16.89" font-weight="700" fill="#888888"><tspan x="410.41" textLength="76.42" lengthAdjust="spacingAndGlyphs">UPLOADS</tspan> <tspan x="491.1" textLength="19.72" lengthAdjust="spacingAndGlyphs">IN</tspan> <tspan x="515.05" textLength="9.39" lengthAdjust="spacingAndGlyphs">1</tspan> <tspan x="528.7" textLength="60.91" lengthAdjust="spacingAndGlyphs">WOCHE</tspan></text>
<clipPath id="c223" clipPathUnits="userSpaceOnUse"><path d="M962.89 1581.3H1007.89V1636.9H986.29V1643.3H981.49V1636.9H962.89Z"/></clipPath>
<text y="1641.3" font-size="57.41" fill="#8a8a8a" stroke="#161618" stroke-width="2.35" clip-path="url(#c223)"><tspan x="967.89" textLength="30.41" lengthAdjust="spacingAndGlyphs">1</tspan></text>
<text y="1614.8" font-size="21.97" fill="#f2f5f4" stroke="#161618" stroke-width="0.09"><tspan x="792.19" textLength="136.81" lengthAdjust="spacingAndGlyphs">ZealandArdor</tspan></text>
<text y="1639.7" font-size="19.23" fill="#f2f5f4" stroke="#161618" stroke-width="0.05"><tspan x="899.67" textLength="52.53" lengthAdjust="spacingAndGlyphs">96,2%</tspan></text>
<text y="1630.2" font-size="10.99" font-weight="700" fill="#5fce4f"><tspan x="740.22" textLength="9.09" lengthAdjust="spacingAndGlyphs">1.</tspan> <tspan x="752.09" textLength="26.06" lengthAdjust="spacingAndGlyphs">Platz</tspan></text>
<text y="1630.2" font-size="10.99" fill="#888888" stroke="#161618" stroke-width="0.04"><tspan x="783.34" textLength="104.36" lengthAdjust="spacingAndGlyphs">Kommentaraccounts</tspan></text>
<text y="1641" font-size="10.99" font-weight="700" fill="#5fce4f"><tspan x="718.7" textLength="9.09" lengthAdjust="spacingAndGlyphs">1.</tspan> <tspan x="730.58" textLength="26.06" lengthAdjust="spacingAndGlyphs">Platz</tspan></text>
<text y="1641" font-size="10.99" fill="#888888" stroke="#161618" stroke-width="0.04"><tspan x="761.83" textLength="62.84" lengthAdjust="spacingAndGlyphs">Wochentage</tspan> <tspan x="827.43" textLength="16.58" lengthAdjust="spacingAndGlyphs">mit</tspan> <tspan x="846.76" textLength="40.95" lengthAdjust="spacingAndGlyphs">Aktivität</tspan></text>
<text y="1651.8" font-size="10.99" fill="#888888" stroke="#161618" stroke-width="0.04"><tspan x="691.67" textLength="16.56" lengthAdjust="spacingAndGlyphs">mit</tspan> <tspan x="711.02" textLength="6.11" lengthAdjust="spacingAndGlyphs">4</tspan> <tspan x="719.88" textLength="43.8" lengthAdjust="spacingAndGlyphs">weiteren</tspan> <tspan x="766.42" textLength="44.97" lengthAdjust="spacingAndGlyphs">Metriken</tspan> <tspan x="814.16" textLength="9.34" lengthAdjust="spacingAndGlyphs">in</tspan> <tspan x="826.27" textLength="19.16" lengthAdjust="spacingAndGlyphs">den</tspan></text>
<text y="1651.8" font-size="10.99" font-weight="700" fill="#5fce4f"><tspan x="850.61" textLength="37.09" lengthAdjust="spacingAndGlyphs">Top100</tspan></text>
<text y="1716.3" font-size="57.41" fill="#8a8a8a" stroke="#161618" stroke-width="2.35"><tspan x="966.59" textLength="30.41" lengthAdjust="spacingAndGlyphs">2</tspan></text>
<text y="1689.8" font-size="21.97" fill="#f2f5f4" stroke="#161618" stroke-width="0.09"><tspan x="843.66" textLength="85.34" lengthAdjust="spacingAndGlyphs">zergface</tspan></text>
<text y="1714.7" font-size="19.23" fill="#f2f5f4" stroke="#161618" stroke-width="0.05"><tspan x="899.67" textLength="52.53" lengthAdjust="spacingAndGlyphs">93,6%</tspan></text>
<text y="1705.2" font-size="10.99" fill="#888888" stroke="#161618" stroke-width="0.04"><tspan x="738.22" textLength="16.56" lengthAdjust="spacingAndGlyphs">mit</tspan> <tspan x="757.56" textLength="6.11" lengthAdjust="spacingAndGlyphs">6</tspan> <tspan x="766.42" textLength="44.97" lengthAdjust="spacingAndGlyphs">Metriken</tspan> <tspan x="814.16" textLength="9.34" lengthAdjust="spacingAndGlyphs">in</tspan> <tspan x="826.27" textLength="19.16" lengthAdjust="spacingAndGlyphs">den</tspan></text>
<text y="1705.2" font-size="10.99" font-weight="700" fill="#5fce4f"><tspan x="850.61" textLength="37.09" lengthAdjust="spacingAndGlyphs">Top100</tspan></text>
<text y="1791.3" font-size="57.41" fill="#8a8a8a" stroke="#161618" stroke-width="2.35"><tspan x="966.59" textLength="30.41" lengthAdjust="spacingAndGlyphs">3</tspan></text>
<text y="1764.8" font-size="21.97" fill="#f2f5f4" stroke="#161618" stroke-width="0.09"><tspan x="867.95" textLength="61.05" lengthAdjust="spacingAndGlyphs">wustu</tspan></text>
<text y="1789.7" font-size="19.23" fill="#f2f5f4" stroke="#161618" stroke-width="0.05"><tspan x="899.67" textLength="52.53" lengthAdjust="spacingAndGlyphs">91,6%</tspan></text>
<text y="1780.2" font-size="10.99" fill="#888888" stroke="#161618" stroke-width="0.04"><tspan x="738.22" textLength="16.56" lengthAdjust="spacingAndGlyphs">mit</tspan> <tspan x="757.56" textLength="6.11" lengthAdjust="spacingAndGlyphs">5</tspan> <tspan x="766.42" textLength="44.97" lengthAdjust="spacingAndGlyphs">Metriken</tspan> <tspan x="814.16" textLength="9.34" lengthAdjust="spacingAndGlyphs">in</tspan> <tspan x="826.27" textLength="19.16" lengthAdjust="spacingAndGlyphs">den</tspan></text>
<text y="1780.2" font-size="10.99" font-weight="700" fill="#5fce4f"><tspan x="850.61" textLength="37.09" lengthAdjust="spacingAndGlyphs">Top100</tspan></text>
<text y="1829.5" font-size="16.89" font-weight="700" fill="#888888"><tspan x="797.36" textLength="79.55" lengthAdjust="spacingAndGlyphs">ACCOUNT</tspan> <tspan x="881.17" textLength="82.84" lengthAdjust="spacingAndGlyphs">WERTUNG</tspan></text>
<text y="1842" font-size="10.99" fill="#888888" stroke="#161618" stroke-width="0.04"><tspan x="711.75" textLength="12.2" lengthAdjust="spacingAndGlyphs">10</tspan> <tspan x="726.72" textLength="47.83" lengthAdjust="spacingAndGlyphs">Metriken,</tspan> <tspan x="777.31" textLength="27.16" lengthAdjust="spacingAndGlyphs">100%</tspan> <tspan x="807.22" textLength="27.58" lengthAdjust="spacingAndGlyphs">wenn</tspan> <tspan x="837.55" textLength="9.34" lengthAdjust="spacingAndGlyphs">in</tspan> <tspan x="849.66" textLength="24.08" lengthAdjust="spacingAndGlyphs">allen</tspan> <tspan x="876.5" textLength="32.84" lengthAdjust="spacingAndGlyphs">alleine</tspan> <tspan x="912.09" textLength="16.25" lengthAdjust="spacingAndGlyphs">auf</tspan> <tspan x="931.09" textLength="24.05" lengthAdjust="spacingAndGlyphs">Platz</tspan> <tspan x="957.91" textLength="6.11" lengthAdjust="spacingAndGlyphs">1</tspan></text>
<clipPath id="c244" clipPathUnits="userSpaceOnUse"><path d="M-3.2 1881.3H41.8V1936.9H20.2V1943.3H15.4V1936.9H-3.2Z"/></clipPath>
<text y="1941.3" font-size="57.41" fill="#8a8a8a" stroke="#161618" stroke-width="2.35" clip-path="url(#c244)"><tspan x="1.8" textLength="30.41" lengthAdjust="spacingAndGlyphs">1</tspan></text>
<text y="1914.7" font-size="21.97" fill="#f2f5f4" stroke="#161618" stroke-width="0.09"><tspan x="50" textLength="136.81" lengthAdjust="spacingAndGlyphs">ZealandArdor</tspan></text>
<text y="1940" font-size="19.23" fill="#64d556" stroke="#161618" stroke-width="0.05"><tspan x="79.2" textLength="58.36" lengthAdjust="spacingAndGlyphs">56.418</tspan></text>
<text y="1940" font-size="13.73" fill="#888888" stroke="#161618" stroke-width="0.2"><tspan x="142.8" textLength="45.7" lengthAdjust="spacingAndGlyphs">(29.180</tspan> <tspan x="191.96" textLength="7.64" lengthAdjust="spacingAndGlyphs">+</tspan> <tspan x="203.05" textLength="45.7" lengthAdjust="spacingAndGlyphs">27.238)</tspan></text>
<text y="2016.3" font-size="57.41" fill="#8a8a8a" stroke="#161618" stroke-width="2.35"><tspan x="1.4" textLength="30.41" lengthAdjust="spacingAndGlyphs">2</tspan></text>
<text y="1989.7" font-size="21.97" fill="#f2f5f4" stroke="#161618" stroke-width="0.09"><tspan x="50" textLength="108.97" lengthAdjust="spacingAndGlyphs">Kolosk0pie</tspan></text>
<text y="2015" font-size="19.23" fill="#64d556" stroke="#161618" stroke-width="0.05"><tspan x="79.2" textLength="58.36" lengthAdjust="spacingAndGlyphs">22.777</tspan></text>
<text y="2015" font-size="13.73" fill="#888888" stroke="#161618" stroke-width="0.2"><tspan x="142.8" textLength="45.7" lengthAdjust="spacingAndGlyphs">(20.717</tspan> <tspan x="191.96" textLength="7.64" lengthAdjust="spacingAndGlyphs">+</tspan> <tspan x="203.05" textLength="38.08" lengthAdjust="spacingAndGlyphs">2.060)</tspan></text>
<text y="2091.3" font-size="57.41" fill="#8a8a8a" stroke="#161618" stroke-width="2.35"><tspan x="1.4" textLength="30.41" lengthAdjust="spacingAndGlyphs">3</tspan></text>
<text y="2064.7" font-size="21.97" fill="#f2f5f4" stroke="#161618" stroke-width="0.09"><tspan x="50" textLength="117.67" lengthAdjust="spacingAndGlyphs">paradoxsan</tspan></text>
<text y="2090" font-size="19.23" fill="#64d556" stroke="#161618" stroke-width="0.05"><tspan x="79.2" textLength="58.36" lengthAdjust="spacingAndGlyphs">22.107</tspan></text>
<text y="2090" font-size="13.73" fill="#888888" stroke="#161618" stroke-width="0.2"><tspan x="142.8" textLength="45.7" lengthAdjust="spacingAndGlyphs">(21.949</tspan> <tspan x="191.96" textLength="7.64" lengthAdjust="spacingAndGlyphs">+</tspan> <tspan x="203.05" textLength="26.89" lengthAdjust="spacingAndGlyphs">158)</tspan></text>
<text y="2130" font-size="16.89" font-weight="700" fill="#888888"><tspan x="35.2" textLength="144.42" lengthAdjust="spacingAndGlyphs">BENISWACHSTUM</tspan></text>
<text y="2142.1" font-size="10.99" fill="#888888" stroke="#161618" stroke-width="0.04"><tspan x="35.2" textLength="30.58" lengthAdjust="spacingAndGlyphs">(Benis</tspan> <tspan x="68.56" textLength="14.66" lengthAdjust="spacingAndGlyphs">für</tspan> <tspan x="85.98" textLength="41.19" lengthAdjust="spacingAndGlyphs">Uploads</tspan> <tspan x="129.92" textLength="6.11" lengthAdjust="spacingAndGlyphs">+</tspan> <tspan x="138.79" textLength="27.39" lengthAdjust="spacingAndGlyphs">Benis</tspan> <tspan x="168.93" textLength="14.67" lengthAdjust="spacingAndGlyphs">für</tspan> <tspan x="186.36" textLength="68.8" lengthAdjust="spacingAndGlyphs">Kommentare)</tspan></text>
<text y="1914.7" font-size="21.97" fill="#f2f5f4" stroke="#161618" stroke-width="0.09"><tspan x="399.8" textLength="70.78" lengthAdjust="spacingAndGlyphs">Marina</tspan></text>
<text y="1940" font-size="19.23" fill="#e84a4a" stroke="#161618" stroke-width="0.05"><tspan x="429.3" textLength="47.69" lengthAdjust="spacingAndGlyphs">4.548</tspan></text>
<text y="1940" font-size="13.73" fill="#888888" stroke="#161618" stroke-width="0.2"><tspan x="483" textLength="42.36" lengthAdjust="spacingAndGlyphs">(-4.364</tspan> <tspan x="528.83" textLength="4.31" lengthAdjust="spacingAndGlyphs">-</tspan> <tspan x="536.59" textLength="26.88" lengthAdjust="spacingAndGlyphs">184)</tspan></text>
<text y="1989.7" font-size="21.97" fill="#f2f5f4" stroke="#161618" stroke-width="0.09"><tspan x="399.8" textLength="131.11" lengthAdjust="spacingAndGlyphs">relaxforsleep</tspan></text>
<text y="2015" font-size="19.23" fill="#e84a4a" stroke="#161618" stroke-width="0.05"><tspan x="429.3" textLength="47.69" lengthAdjust="spacingAndGlyphs">3.828</tspan></text>
<text y="2015" font-size="13.73" fill="#888888" stroke="#161618" stroke-width="0.2"><tspan x="483" textLength="42.36" lengthAdjust="spacingAndGlyphs">(-3.940</tspan> <tspan x="528.83" textLength="7.64" lengthAdjust="spacingAndGlyphs">+</tspan> <tspan x="539.92" textLength="26.88" lengthAdjust="spacingAndGlyphs">112)</tspan></text>
<text y="2064.7" font-size="21.97" fill="#f2f5f4" stroke="#161618" stroke-width="0.09"><tspan x="399.8" textLength="211.92" lengthAdjust="spacingAndGlyphs">DanielDosenbierGHC</tspan></text>
<text y="2090" font-size="19.23" fill="#e84a4a" stroke="#161618" stroke-width="0.05"><tspan x="429.3" textLength="47.69" lengthAdjust="spacingAndGlyphs">3.679</tspan></text>
<text y="2090" font-size="13.73" fill="#888888" stroke="#161618" stroke-width="0.2"><tspan x="483" textLength="42.36" lengthAdjust="spacingAndGlyphs">(-4.541</tspan> <tspan x="528.83" textLength="7.64" lengthAdjust="spacingAndGlyphs">+</tspan> <tspan x="539.92" textLength="26.88" lengthAdjust="spacingAndGlyphs">862)</tspan></text>
<text y="2129.5" font-size="16.89" font-weight="700" fill="#888888"><tspan x="440.36" textLength="119.28" lengthAdjust="spacingAndGlyphs">BENISVERLUST</tspan></text>
<text y="2142.4" font-size="10.99" fill="#888888" stroke="#161618" stroke-width="0.04"><tspan x="390.03" textLength="30.58" lengthAdjust="spacingAndGlyphs">(Benis</tspan> <tspan x="423.39" textLength="14.66" lengthAdjust="spacingAndGlyphs">für</tspan> <tspan x="440.81" textLength="41.19" lengthAdjust="spacingAndGlyphs">Uploads</tspan> <tspan x="484.75" textLength="6.11" lengthAdjust="spacingAndGlyphs">+</tspan> <tspan x="493.62" textLength="27.39" lengthAdjust="spacingAndGlyphs">Benis</tspan> <tspan x="523.77" textLength="14.67" lengthAdjust="spacingAndGlyphs">für</tspan> <tspan x="541.19" textLength="68.8" lengthAdjust="spacingAndGlyphs">Kommentare)</tspan></text>
<text y="1914.8" font-size="21.97" fill="#f2f5f4" stroke="#161618" stroke-width="0.09"><tspan x="792.19" textLength="136.81" lengthAdjust="spacingAndGlyphs">ZealandArdor</tspan></text>
<text y="1939.7" font-size="19.23" fill="#f2f5f4" stroke="#161618" stroke-width="0.05"><tspan x="899.67" textLength="52.53" lengthAdjust="spacingAndGlyphs">90,7%</tspan></text>
<text y="1930.2" font-size="10.99" font-weight="700" fill="#5fce4f"><tspan x="740.22" textLength="9.09" lengthAdjust="spacingAndGlyphs">1.</tspan> <tspan x="752.09" textLength="26.06" lengthAdjust="spacingAndGlyphs">Platz</tspan></text>
<text y="1930.2" font-size="10.99" fill="#888888" stroke="#161618" stroke-width="0.04"><tspan x="783.34" textLength="104.36" lengthAdjust="spacingAndGlyphs">Kommentaraccounts</tspan></text>
<text y="1941" font-size="10.99" font-weight="700" fill="#5fce4f"><tspan x="718.7" textLength="9.09" lengthAdjust="spacingAndGlyphs">1.</tspan> <tspan x="730.58" textLength="26.06" lengthAdjust="spacingAndGlyphs">Platz</tspan></text>
<text y="1941" font-size="10.99" fill="#888888" stroke="#161618" stroke-width="0.04"><tspan x="761.83" textLength="62.84" lengthAdjust="spacingAndGlyphs">Wochentage</tspan> <tspan x="827.43" textLength="16.58" lengthAdjust="spacingAndGlyphs">mit</tspan> <tspan x="846.76" textLength="40.95" lengthAdjust="spacingAndGlyphs">Aktivität</tspan></text>
<text y="1951.8" font-size="10.99" fill="#888888" stroke="#161618" stroke-width="0.04"><tspan x="691.67" textLength="16.56" lengthAdjust="spacingAndGlyphs">mit</tspan> <tspan x="711.02" textLength="6.11" lengthAdjust="spacingAndGlyphs">3</tspan> <tspan x="719.88" textLength="43.8" lengthAdjust="spacingAndGlyphs">weiteren</tspan> <tspan x="766.42" textLength="44.97" lengthAdjust="spacingAndGlyphs">Metriken</tspan> <tspan x="814.16" textLength="9.34" lengthAdjust="spacingAndGlyphs">in</tspan> <tspan x="826.27" textLength="19.16" lengthAdjust="spacingAndGlyphs">den</tspan></text>
<text y="1951.8" font-size="10.99" font-weight="700" fill="#5fce4f"><tspan x="850.61" textLength="37.09" lengthAdjust="spacingAndGlyphs">Top100</tspan></text>
<text y="1989.8" font-size="21.97" fill="#f2f5f4" stroke="#161618" stroke-width="0.09"><tspan x="826.45" textLength="102.55" lengthAdjust="spacingAndGlyphs">Ramsihart</tspan></text>
<text y="2014.7" font-size="19.23" fill="#f2f5f4" stroke="#161618" stroke-width="0.05"><tspan x="899.67" textLength="52.53" lengthAdjust="spacingAndGlyphs">86,9%</tspan></text>
<text y="2005.2" font-size="10.99" fill="#888888" stroke="#161618" stroke-width="0.04"><tspan x="744.31" textLength="16.56" lengthAdjust="spacingAndGlyphs">mit</tspan> <tspan x="763.66" textLength="6.11" lengthAdjust="spacingAndGlyphs">3</tspan> <tspan x="772.52" textLength="44.97" lengthAdjust="spacingAndGlyphs">Metriken</tspan> <tspan x="820.25" textLength="9.34" lengthAdjust="spacingAndGlyphs">in</tspan> <tspan x="832.36" textLength="19.16" lengthAdjust="spacingAndGlyphs">den</tspan></text>
<text y="2005.2" font-size="10.99" font-weight="700" fill="#5fce4f"><tspan x="856.7" textLength="31" lengthAdjust="spacingAndGlyphs">Top20</tspan></text>
<text y="2064.8" font-size="21.97" fill="#f2f5f4" stroke="#161618" stroke-width="0.09"><tspan x="829.81" textLength="99.19" lengthAdjust="spacingAndGlyphs">vanDimas</tspan></text>
<text y="2089.7" font-size="19.23" fill="#f2f5f4" stroke="#161618" stroke-width="0.05"><tspan x="899.67" textLength="52.53" lengthAdjust="spacingAndGlyphs">82,7%</tspan></text>
<text y="2080.2" font-size="10.99" font-weight="700" fill="#5fce4f"><tspan x="796.69" textLength="9.09" lengthAdjust="spacingAndGlyphs">1.</tspan> <tspan x="808.56" textLength="26.06" lengthAdjust="spacingAndGlyphs">Platz</tspan></text>
<text y="2080.2" font-size="10.99" fill="#888888" stroke="#161618" stroke-width="0.04"><tspan x="839.81" textLength="47.89" lengthAdjust="spacingAndGlyphs">Diversität</tspan></text>
<text y="2091" font-size="10.99" font-weight="700" fill="#5fce4f"><tspan x="740.22" textLength="9.09" lengthAdjust="spacingAndGlyphs">1.</tspan> <tspan x="752.09" textLength="26.06" lengthAdjust="spacingAndGlyphs">Platz</tspan></text>
<text y="2091" font-size="10.99" fill="#888888" stroke="#161618" stroke-width="0.04"><tspan x="783.34" textLength="104.36" lengthAdjust="spacingAndGlyphs">Kommentaraccounts</tspan></text>
<text y="2101.8" font-size="10.99" fill="#888888" stroke="#161618" stroke-width="0.04"><tspan x="703.86" textLength="16.56" lengthAdjust="spacingAndGlyphs">mit</tspan> <tspan x="723.2" textLength="6.11" lengthAdjust="spacingAndGlyphs">4</tspan> <tspan x="732.06" textLength="43.8" lengthAdjust="spacingAndGlyphs">weiteren</tspan> <tspan x="778.61" textLength="44.97" lengthAdjust="spacingAndGlyphs">Metriken</tspan> <tspan x="826.34" textLength="9.34" lengthAdjust="spacingAndGlyphs">in</tspan> <tspan x="838.45" textLength="19.16" lengthAdjust="spacingAndGlyphs">den</tspan></text>
<text y="2101.8" font-size="10.99" font-weight="700" fill="#5fce4f"><tspan x="862.79" textLength="24.91" lengthAdjust="spacingAndGlyphs">Top5</tspan></text>
<text transform="translate(985.3 1943.6) rotate(-90)" y="0" font-size="25.83" fill="#8a8a8a" stroke="#161618" stroke-width="1.06"><tspan x="0" textLength="34.95" lengthAdjust="spacingAndGlyphs">sfw</tspan></text>
<text transform="translate(985.3 2017.6) rotate(-90)" y="0" font-size="25.83" fill="#8a8a8a" stroke="#161618" stroke-width="1.06"><tspan x="0" textLength="48.92" lengthAdjust="spacingAndGlyphs">nsfw</tspan></text>
<text transform="translate(985.3 2092.1) rotate(-90)" y="0" font-size="25.83" fill="#8a8a8a" stroke="#161618" stroke-width="1.06"><tspan x="0" textLength="37.2" lengthAdjust="spacingAndGlyphs">nsfl</tspan></text>
<text y="2129.4" font-size="16.89" font-weight="700" fill="#888888"><tspan x="797.36" textLength="79.55" lengthAdjust="spacingAndGlyphs">ACCOUNT</tspan> <tspan x="881.17" textLength="82.84" lengthAdjust="spacingAndGlyphs">WERTUNG</tspan></text>
<text y="2141.8" font-size="10.99" fill="#888888" stroke="#161618" stroke-width="0.04"><tspan x="718.33" textLength="53.19" lengthAdjust="spacingAndGlyphs">Grundlage</tspan> <tspan x="774.28" textLength="21.02" lengthAdjust="spacingAndGlyphs">sind</tspan> <tspan x="798.05" textLength="15.33" lengthAdjust="spacingAndGlyphs">die</tspan> <tspan x="816.12" textLength="41.2" lengthAdjust="spacingAndGlyphs">Uploads</tspan> <tspan x="860.08" textLength="17.69" lengthAdjust="spacingAndGlyphs">des</tspan> <tspan x="880.52" textLength="50.34" lengthAdjust="spacingAndGlyphs">jeweiligen</tspan> <tspan x="933.61" textLength="30.41" lengthAdjust="spacingAndGlyphs">Filters</tspan></text>
<text y="2153.4" font-size="10.99" fill="#888888" stroke="#161618" stroke-width="0.04"><tspan x="711.75" textLength="12.2" lengthAdjust="spacingAndGlyphs">10</tspan> <tspan x="726.72" textLength="47.83" lengthAdjust="spacingAndGlyphs">Metriken,</tspan> <tspan x="777.31" textLength="27.16" lengthAdjust="spacingAndGlyphs">100%</tspan> <tspan x="807.22" textLength="27.58" lengthAdjust="spacingAndGlyphs">wenn</tspan> <tspan x="837.55" textLength="9.34" lengthAdjust="spacingAndGlyphs">in</tspan> <tspan x="849.66" textLength="24.08" lengthAdjust="spacingAndGlyphs">allen</tspan> <tspan x="876.5" textLength="32.84" lengthAdjust="spacingAndGlyphs">alleine</tspan> <tspan x="912.09" textLength="16.25" lengthAdjust="spacingAndGlyphs">auf</tspan> <tspan x="931.09" textLength="24.05" lengthAdjust="spacingAndGlyphs">Platz</tspan> <tspan x="957.91" textLength="6.11" lengthAdjust="spacingAndGlyphs">1</tspan></text>
<text y="2200" font-size="27.47" fill="#f2f5f4" stroke="#161618" stroke-width="0.14"><tspan x="344.8" textLength="134.33" lengthAdjust="spacingAndGlyphs">pr0gramm</tspan> <tspan x="486.07" textLength="194.33" lengthAdjust="spacingAndGlyphs">w0chenstatistik</tspan></text>
<text y="2221.8" font-size="13.73" fill="#3e3e40" stroke="#161618" stroke-width="0.2"><tspan x="217.75" textLength="117.48" lengthAdjust="spacingAndGlyphs">w0chenstatistik_v2</tspan> <tspan x="338.7" textLength="86.84" lengthAdjust="spacingAndGlyphs">867a13d-dirty</tspan> <tspan x="429" textLength="4.3" lengthAdjust="spacingAndGlyphs">-</tspan> <tspan x="436.75" textLength="64.42" lengthAdjust="spacingAndGlyphs">Rohdaten:</tspan> <tspan x="504.62" textLength="68.14" lengthAdjust="spacingAndGlyphs">28.08.2023</tspan> <tspan x="576.22" textLength="34.08" lengthAdjust="spacingAndGlyphs">18:20</tspan> <tspan x="613.75" textLength="4.31" lengthAdjust="spacingAndGlyphs">-</tspan> <tspan x="621.5" textLength="51.64" lengthAdjust="spacingAndGlyphs">erzeugt:</tspan> <tspan x="676.59" textLength="68.14" lengthAdjust="spacingAndGlyphs">28.08.2023</tspan> <tspan x="748.19" textLength="34.08" lengthAdjust="spacingAndGlyphs">19:00</tspan></text>
<g fill="none" stroke="#a8a8a8" stroke-width="0.9" stroke-linecap="round" stroke-linejoin="round"><ellipse cx="806.8" cy="1374.3" rx="5.6" ry="8.6" transform="rotate(22 806.8 1374.3)" fill="#161618" fill-opacity="0.78"/><path d="M796.6 1369.4 l4.2 -2.6 l3.4 1.2 l-4.6 2.2 z M800 1363.8 l2.4 1.6 M804.6 1368.6 l1.8 3.8 M809.6 1369 l-3 6.4 M806.4 1375.6 l-2.6 4.4 M810.4 1364.4 l3.2 2.2 l2.6 -0.6 M805 1379.6 q2.4 1.6 4.6 0.2"/><circle cx="805.2" cy="1378.8" r="1" fill="#c8c8c8" stroke="none"/><circle cx="809.2" cy="1381" r="0.9" fill="#c8c8c8" stroke="none"/></g>
</svg></body></html>
